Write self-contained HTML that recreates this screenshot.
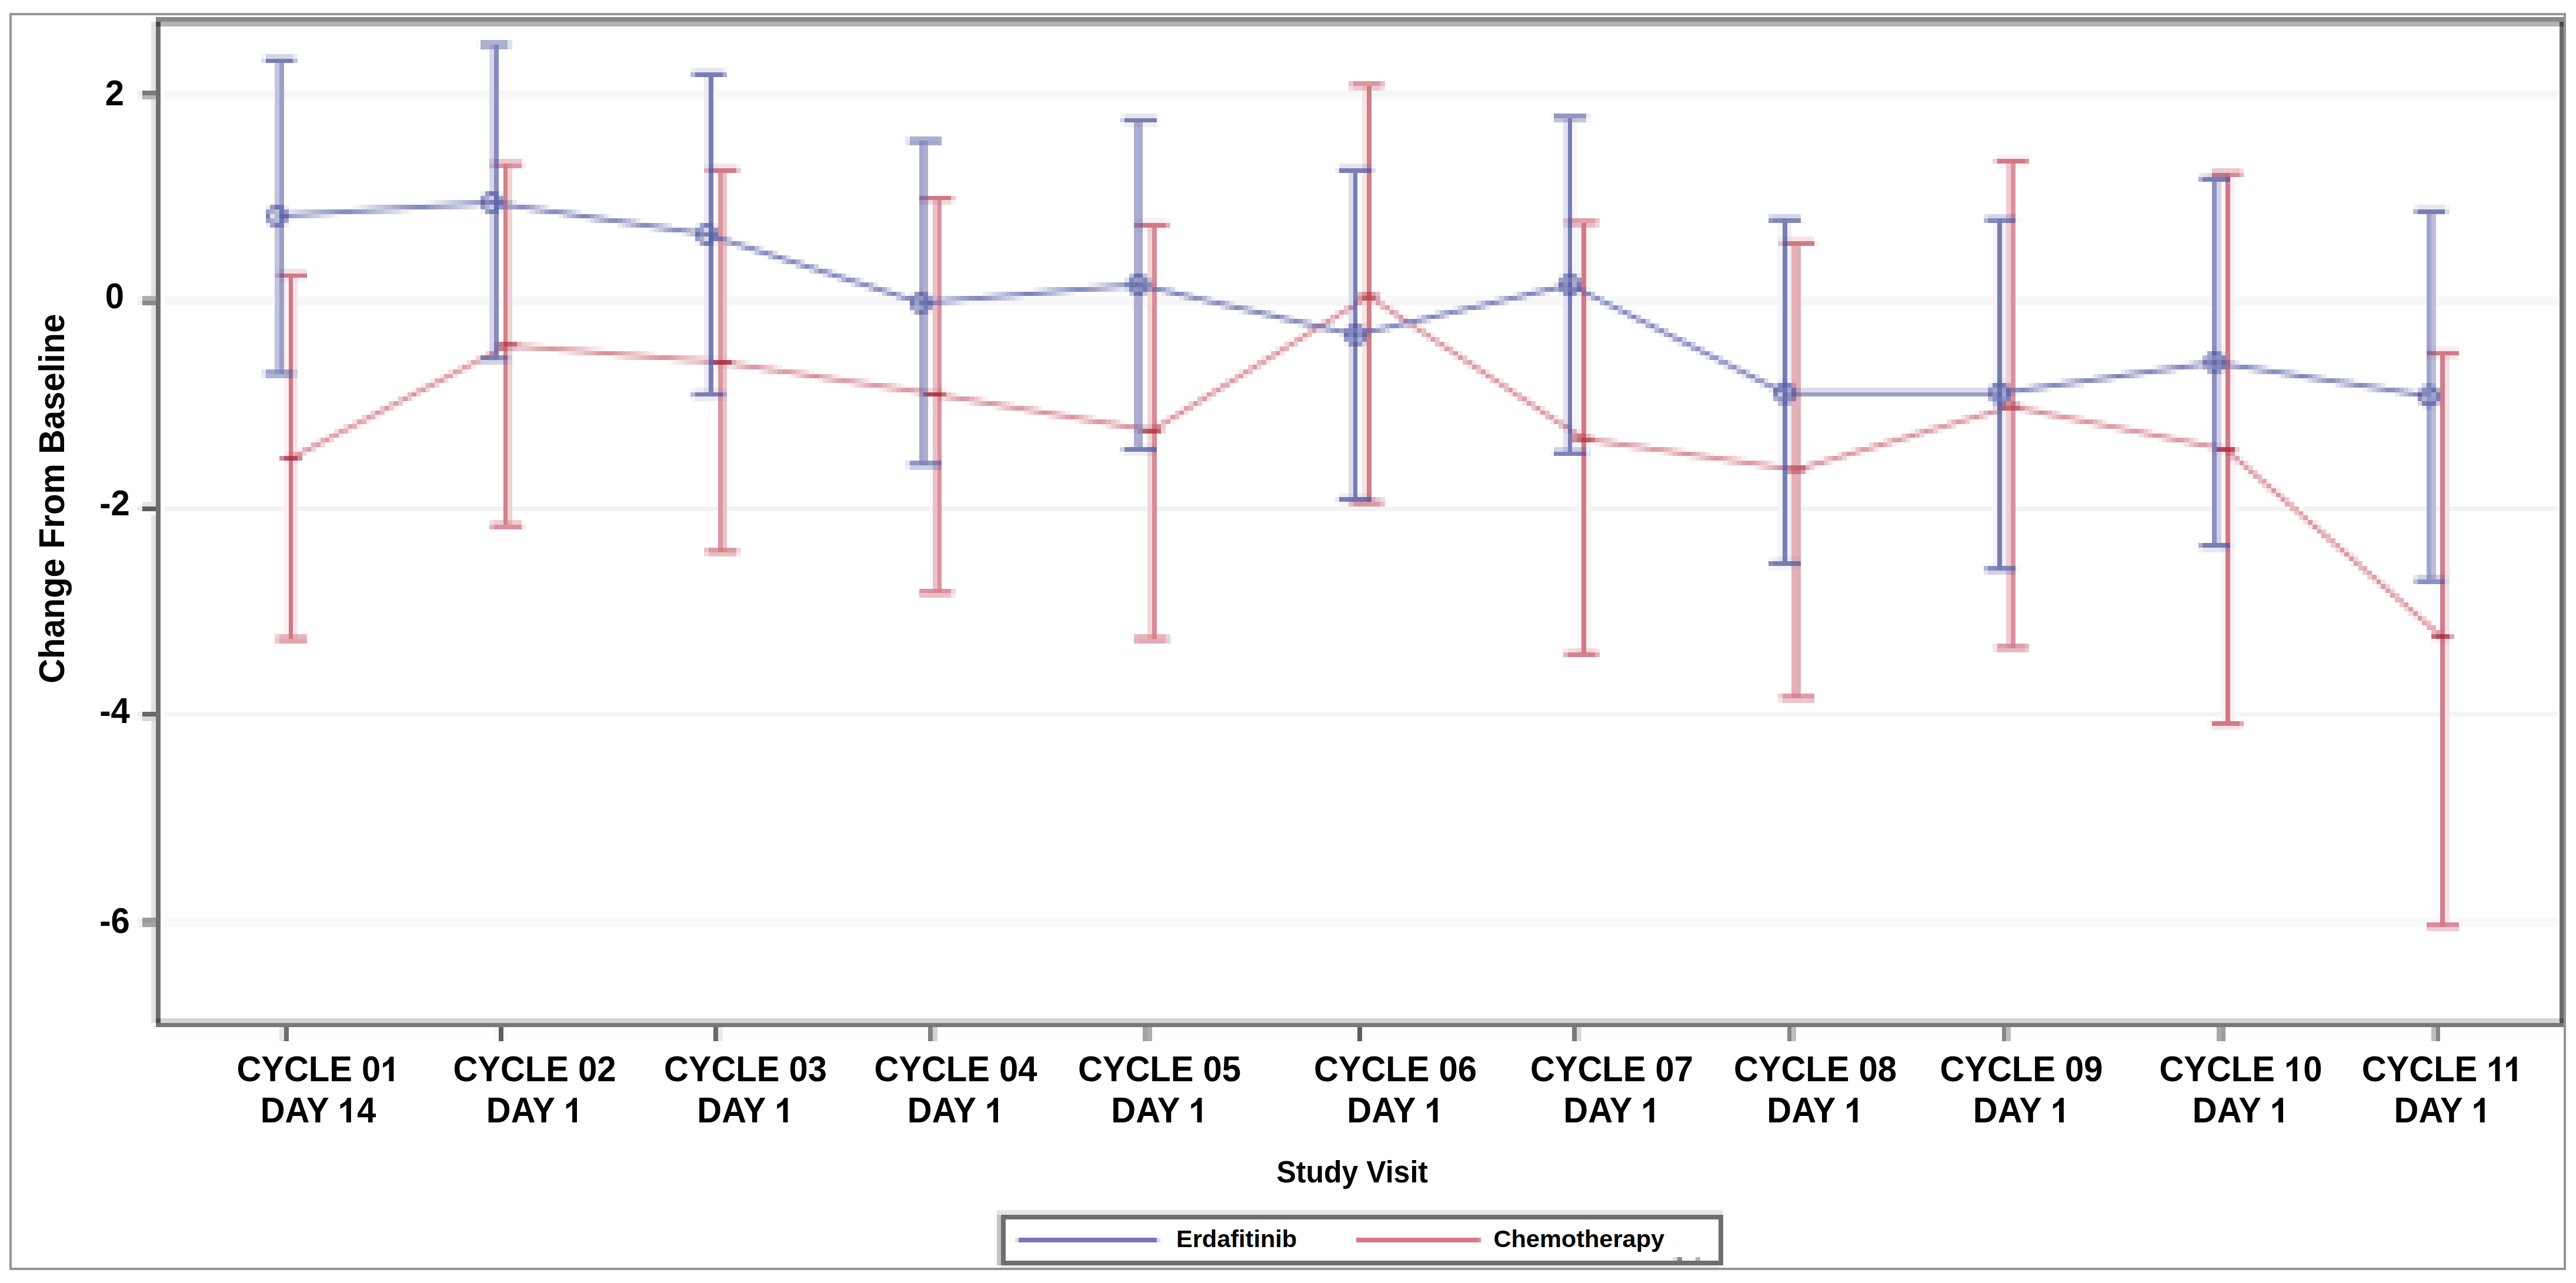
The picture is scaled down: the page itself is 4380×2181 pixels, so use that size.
<!DOCTYPE html><html><head><meta charset="utf-8"><style>html,body{margin:0;padding:0;background:#fff;width:4380px;height:2181px;overflow:hidden}svg{position:absolute;left:0;top:0}text{font-family:"Liberation Sans",sans-serif;font-weight:bold;fill:#000}</style></head><body>
<svg width="4380" height="2181" viewBox="0 0 4380 2181">
<rect x="0" y="0" width="4380" height="2181" fill="#fff"/>
<rect x="18" y="24" width="4343" height="2133" fill="none" stroke="#939599" stroke-width="4"/>
<rect x="273" y="37" width="4079" height="8" fill="#b3b3b3"/>
<rect x="257" y="37" width="8" height="1702" fill="#e2e3e3"/>
<rect x="273" y="1731" width="4079" height="8" fill="#d4d6d6"/>
<path fill="#f0f0f0" d="M234 154h8v8h-8zM234 511h8v8h-8z"/><path fill="#7b7b7b" d="M242 154h23v8h-23z"/><path fill="#f6f6f9" d="M281 154h4070v8h-4070zM281 511h4070v8h-4070z"/><path fill="#f6f6f6" d="M234 162h8v7h-8zM234 503h8v8h-8z"/><path fill="#b7b7b7" d="M242 162h23v7h-23z"/><path fill="#f9f9fc" d="M281 162h4070v7h-4070zM281 503h4070v8h-4070z"/><path fill="#b1b1b1" d="M242 503h23v8h-23z"/><path fill="#8a8a8a" d="M242 511h23v8h-23z"/><path fill="#e4e4e4" d="M242 853h23v8h-23z"/><path fill="#eaeaea" d="M234 861h8v8h-8zM1221 1746h8v8h-8zM1221 1754h8v8h-8zM1221 1762h8v8h-8z"/><path fill="#5d5d5d" d="M242 861h23v8h-23zM848 1746h8v8h-8zM2308 1746h8v8h-8zM848 1754h8v8h-8zM2308 1754h8v8h-8zM848 1762h8v8h-8zM2308 1762h8v8h-8z"/><path fill="#f3f3f6" d="M281 861h4070v8h-4070z"/><path fill="#f9f9f9" d="M242 869h23v7h-23zM234 1218h8v8h-8zM281 1568h4070v8h-4070zM840 1746h8v8h-8zM856 1746h7v8h-7zM2301 1746h7v8h-7zM2316 1746h8v8h-8zM840 1754h8v8h-8zM856 1754h7v8h-7zM2301 1754h7v8h-7zM2316 1754h8v8h-8zM840 1762h8v8h-8zM856 1762h7v8h-7zM2301 1762h7v8h-7zM2316 1762h8v8h-8z"/><path fill="#ededed" d="M234 1210h8v8h-8z"/><path fill="#666666" d="M242 1210h23v8h-23z"/><path fill="#f3f6f6" d="M281 1210h4070v8h-4070z"/><path fill="#d8d8d8" d="M242 1218h23v8h-23z"/><path fill="#f3f3f3" d="M234 1560h8v8h-8zM234 1568h8v8h-8z"/><path fill="#999999" d="M242 1560h23v8h-23z"/><path fill="#f6f9f9" d="M281 1560h4070v8h-4070z"/><path fill="#a5a5a5" d="M242 1568h23v8h-23z"/><path fill="#e7e7e7" d="M475 1746h8v8h-8zM475 1754h8v8h-8zM475 1762h8v8h-8z"/><path fill="#6c6c6c" d="M483 1746h8v8h-8zM483 1754h8v8h-8zM483 1762h8v8h-8z"/><path fill="#696969" d="M1213 1746h8v8h-8zM1213 1754h8v8h-8zM1213 1762h8v8h-8z"/><path fill="#818181" d="M1578 1746h8v8h-8zM1578 1754h8v8h-8zM1578 1762h8v8h-8z"/><path fill="#d2d2d2" d="M1586 1746h8v8h-8zM1586 1754h8v8h-8zM1586 1762h8v8h-8z"/><path fill="#a2a2a2" d="M1943 1746h8v8h-8zM1943 1754h8v8h-8zM1943 1762h8v8h-8z"/><path fill="#aeaeae" d="M1951 1746h8v8h-8zM1951 1754h8v8h-8zM1951 1762h8v8h-8z"/><path fill="#787878" d="M2673 1746h8v8h-8zM2673 1754h8v8h-8zM2673 1762h8v8h-8z"/><path fill="#dbdbdb" d="M2681 1746h8v8h-8zM2681 1754h8v8h-8zM2681 1762h8v8h-8z"/><path fill="#878787" d="M3039 1746h7v8h-7zM3404 1746h7v8h-7zM4142 1746h7v8h-7zM3039 1754h7v8h-7zM3404 1754h7v8h-7zM4142 1754h7v8h-7zM3039 1762h7v8h-7zM3404 1762h7v8h-7zM4142 1762h7v8h-7z"/><path fill="#bdbdbd" d="M3046 1746h8v8h-8zM3411 1746h8v8h-8zM4134 1746h8v8h-8zM3046 1754h8v8h-8zM3411 1754h8v8h-8zM4134 1754h8v8h-8zM3046 1762h8v8h-8zM3411 1762h8v8h-8zM4134 1762h8v8h-8z"/><path fill="#a8a8a8" d="M3769 1746h8v8h-8zM3769 1754h8v8h-8zM3769 1762h8v8h-8z"/><path fill="#9c9c9c" d="M3777 1746h7v8h-7zM3777 1754h7v8h-7zM3777 1762h7v8h-7z"/>
<rect x="265" y="29" width="4094" height="8" fill="#878989"/>
<rect x="265" y="37" width="8" height="1709" fill="#6e6e6e"/>
<rect x="265" y="37" width="8" height="8" fill="#474747"/>
<rect x="4352" y="37" width="7" height="1709" fill="#6a6c6c"/>
<rect x="4352" y="37" width="7" height="8" fill="#4a4a4a"/>
<rect x="265" y="1739" width="4094" height="7" fill="#777878"/>
<rect x="265" y="1731" width="8" height="8" fill="#505050"/>
<rect x="4352" y="1731" width="7" height="8" fill="#505050"/>
<g transform="translate(195,179.0) scale(1,1.04)"><text x="0" y="0" font-size="58" text-anchor="middle">2</text></g>
<g transform="translate(195,523.5) scale(1,1.04)"><text x="0" y="0" font-size="58" text-anchor="middle">0</text></g>
<g transform="translate(195,876.0) scale(1,1.04)"><text x="0" y="0" font-size="58" text-anchor="middle">-2</text></g>
<g transform="translate(195,1229.0) scale(1,1.04)"><text x="0" y="0" font-size="58" text-anchor="middle">-4</text></g>
<g transform="translate(195,1586.0) scale(1,1.04)"><text x="0" y="0" font-size="58" text-anchor="middle">-6</text></g>
<g transform="translate(541.0,1838) scale(1,1.04)"><text x="0" y="0" font-size="58" text-anchor="middle">CYCLE 01</text></g>
<g transform="translate(541.0,1908) scale(1,1.04)"><text x="0" y="0" font-size="58" text-anchor="middle">DAY 14</text></g>
<g transform="translate(909.0,1838) scale(1,1.04)"><text x="0" y="0" font-size="58" text-anchor="middle">CYCLE 02</text></g>
<g transform="translate(909.0,1908) scale(1,1.04)"><text x="0" y="0" font-size="58" text-anchor="middle">DAY 1</text></g>
<g transform="translate(1267.5,1838) scale(1,1.04)"><text x="0" y="0" font-size="58" text-anchor="middle">CYCLE 03</text></g>
<g transform="translate(1267.5,1908) scale(1,1.04)"><text x="0" y="0" font-size="58" text-anchor="middle">DAY 1</text></g>
<g transform="translate(1625.0,1838) scale(1,1.04)"><text x="0" y="0" font-size="58" text-anchor="middle">CYCLE 04</text></g>
<g transform="translate(1625.0,1908) scale(1,1.04)"><text x="0" y="0" font-size="58" text-anchor="middle">DAY 1</text></g>
<g transform="translate(1971.5,1838) scale(1,1.04)"><text x="0" y="0" font-size="58" text-anchor="middle">CYCLE 05</text></g>
<g transform="translate(1971.5,1908) scale(1,1.04)"><text x="0" y="0" font-size="58" text-anchor="middle">DAY 1</text></g>
<g transform="translate(2372.5,1838) scale(1,1.04)"><text x="0" y="0" font-size="58" text-anchor="middle">CYCLE 06</text></g>
<g transform="translate(2372.5,1908) scale(1,1.04)"><text x="0" y="0" font-size="58" text-anchor="middle">DAY 1</text></g>
<g transform="translate(2740.5,1838) scale(1,1.04)"><text x="0" y="0" font-size="58" text-anchor="middle">CYCLE 07</text></g>
<g transform="translate(2740.5,1908) scale(1,1.04)"><text x="0" y="0" font-size="58" text-anchor="middle">DAY 1</text></g>
<g transform="translate(3086.5,1838) scale(1,1.04)"><text x="0" y="0" font-size="58" text-anchor="middle">CYCLE 08</text></g>
<g transform="translate(3086.5,1908) scale(1,1.04)"><text x="0" y="0" font-size="58" text-anchor="middle">DAY 1</text></g>
<g transform="translate(3437.0,1838) scale(1,1.04)"><text x="0" y="0" font-size="58" text-anchor="middle">CYCLE 09</text></g>
<g transform="translate(3437.0,1908) scale(1,1.04)"><text x="0" y="0" font-size="58" text-anchor="middle">DAY 1</text></g>
<g transform="translate(3810.0,1838) scale(1,1.04)"><text x="0" y="0" font-size="58" text-anchor="middle">CYCLE 10</text></g>
<g transform="translate(3810.0,1908) scale(1,1.04)"><text x="0" y="0" font-size="58" text-anchor="middle">DAY 1</text></g>
<g transform="translate(4152.7,1838) scale(1,1.04)"><text x="0" y="0" font-size="58" text-anchor="middle">CYCLE 11</text></g>
<g transform="translate(4152.7,1908) scale(1,1.04)"><text x="0" y="0" font-size="58" text-anchor="middle">DAY 1</text></g>
<rect x="649.34" y="1793.5" width="30" height="46" fill="#fff"/>
<path transform="translate(647.34,1838)" d="M14.1 0H22V-41.8H15.6Q13.5 -36 9.4 -33.6Q6.8 -31.9 3.8 -30.6V-23.1Q9.8 -25.5 14.1 -30.2Z" fill="#000"/>
<rect x="576.83" y="1863.5" width="30" height="46" fill="#fff"/>
<path transform="translate(574.83,1908)" d="M14.1 0H22V-41.8H15.6Q13.5 -36 9.4 -33.6Q6.8 -31.9 3.8 -30.6V-23.1Q9.8 -25.5 14.1 -30.2Z" fill="#000"/>
<rect x="960.95" y="1863.5" width="30" height="46" fill="#fff"/>
<path transform="translate(958.95,1908)" d="M14.1 0H22V-41.8H15.6Q13.5 -36 9.4 -33.6Q6.8 -31.9 3.8 -30.6V-23.1Q9.8 -25.5 14.1 -30.2Z" fill="#000"/>
<rect x="1319.45" y="1863.5" width="30" height="46" fill="#fff"/>
<path transform="translate(1317.45,1908)" d="M14.1 0H22V-41.8H15.6Q13.5 -36 9.4 -33.6Q6.8 -31.9 3.8 -30.6V-23.1Q9.8 -25.5 14.1 -30.2Z" fill="#000"/>
<rect x="1676.95" y="1863.5" width="30" height="46" fill="#fff"/>
<path transform="translate(1674.95,1908)" d="M14.1 0H22V-41.8H15.6Q13.5 -36 9.4 -33.6Q6.8 -31.9 3.8 -30.6V-23.1Q9.8 -25.5 14.1 -30.2Z" fill="#000"/>
<rect x="2023.45" y="1863.5" width="30" height="46" fill="#fff"/>
<path transform="translate(2021.45,1908)" d="M14.1 0H22V-41.8H15.6Q13.5 -36 9.4 -33.6Q6.8 -31.9 3.8 -30.6V-23.1Q9.8 -25.5 14.1 -30.2Z" fill="#000"/>
<rect x="2424.45" y="1863.5" width="30" height="46" fill="#fff"/>
<path transform="translate(2422.45,1908)" d="M14.1 0H22V-41.8H15.6Q13.5 -36 9.4 -33.6Q6.8 -31.9 3.8 -30.6V-23.1Q9.8 -25.5 14.1 -30.2Z" fill="#000"/>
<rect x="2792.45" y="1863.5" width="30" height="46" fill="#fff"/>
<path transform="translate(2790.45,1908)" d="M14.1 0H22V-41.8H15.6Q13.5 -36 9.4 -33.6Q6.8 -31.9 3.8 -30.6V-23.1Q9.8 -25.5 14.1 -30.2Z" fill="#000"/>
<rect x="3138.45" y="1863.5" width="30" height="46" fill="#fff"/>
<path transform="translate(3136.45,1908)" d="M14.1 0H22V-41.8H15.6Q13.5 -36 9.4 -33.6Q6.8 -31.9 3.8 -30.6V-23.1Q9.8 -25.5 14.1 -30.2Z" fill="#000"/>
<rect x="3488.95" y="1863.5" width="30" height="46" fill="#fff"/>
<path transform="translate(3486.95,1908)" d="M14.1 0H22V-41.8H15.6Q13.5 -36 9.4 -33.6Q6.8 -31.9 3.8 -30.6V-23.1Q9.8 -25.5 14.1 -30.2Z" fill="#000"/>
<rect x="3886.07" y="1793.5" width="30" height="46" fill="#fff"/>
<path transform="translate(3884.07,1838)" d="M14.1 0H22V-41.8H15.6Q13.5 -36 9.4 -33.6Q6.8 -31.9 3.8 -30.6V-23.1Q9.8 -25.5 14.1 -30.2Z" fill="#000"/>
<rect x="3861.95" y="1863.5" width="30" height="46" fill="#fff"/>
<path transform="translate(3859.95,1908)" d="M14.1 0H22V-41.8H15.6Q13.5 -36 9.4 -33.6Q6.8 -31.9 3.8 -30.6V-23.1Q9.8 -25.5 14.1 -30.2Z" fill="#000"/>
<rect x="4230.37" y="1793.5" width="30" height="46" fill="#fff"/>
<path transform="translate(4228.37,1838)" d="M14.1 0H22V-41.8H15.6Q13.5 -36 9.4 -33.6Q6.8 -31.9 3.8 -30.6V-23.1Q9.8 -25.5 14.1 -30.2Z" fill="#000"/>
<rect x="4259.43" y="1793.5" width="30" height="46" fill="#fff"/>
<path transform="translate(4257.43,1838)" d="M14.1 0H22V-41.8H15.6Q13.5 -36 9.4 -33.6Q6.8 -31.9 3.8 -30.6V-23.1Q9.8 -25.5 14.1 -30.2Z" fill="#000"/>
<rect x="4204.65" y="1863.5" width="30" height="46" fill="#fff"/>
<path transform="translate(4202.65,1908)" d="M14.1 0H22V-41.8H15.6Q13.5 -36 9.4 -33.6Q6.8 -31.9 3.8 -30.6V-23.1Q9.8 -25.5 14.1 -30.2Z" fill="#000"/>
<g transform="translate(2170.5,2010) scale(1,1.04)"><text x="0" y="0" font-size="50">Study Visit</text></g>
<g transform="translate(109.3,1161.8) rotate(-90) scale(1,1.04)"><text x="0" y="0" font-size="58">Change From Baseline</text></g>
<path fill="#f5f5fa" d="M444 92h8v8h-8zM568 364h8v7h-8zM599 348h8v8h-8zM693 356h7v8h-7zM1034 364h8v7h-8zM1174 659h8v8h-8zM1174 674h8v8h-8zM1244 402h8v8h-8zM1298 434h8v7h-8zM1392 449h7v8h-7zM1493 496h7v7h-7zM1904 193h8v8h-8zM1912 752h8v8h-8zM1920 752h8v8h-8zM1943 752h8v8h-8zM1998 488h7v8h-7zM2036 511h8v8h-8zM2277 853h8v8h-8zM2285 853h8v8h-8zM2363 558h7v8h-7zM2370 542h8v8h-8zM2495 527h8v8h-8zM2503 511h7v8h-7zM2635 480h7v8h-7zM2673 208h8v163h-8zM2673 387h8v78h-8zM2673 503h8v226h-8zM2673 752h8v8h-8zM2697 201h8v7h-8zM2743 527h8v8h-8zM2759 535h8v7h-8zM2774 527h8v8h-8zM3007 946h8v8h-8zM3007 962h8v8h-8zM3015 962h8v8h-8zM3023 379h8v23h-8zM3023 418h8v225h-8zM3023 690h8v93h-8zM3023 799h8v147h-8zM3023 962h8v8h-8zM3031 962h8v8h-8zM3039 962h7v8h-7zM3388 379h8v264h-8zM3388 705h8v257h-8zM3427 371h8v8h-8zM3427 962h8v8h-8zM3497 643h8v8h-8zM3645 636h7v7h-7zM3699 628h8v8h-8zM3714 612h8v8h-8zM3870 636h8v7h-8zM4002 643h8v8h-8zM4017 659h8v8h-8zM4157 348h8v8h-8z"/><path fill="#dcdceb" d="M444 100h8v7h-8zM545 364h8v7h-8zM623 348h7v8h-7zM669 356h8v8h-8zM902 356h8v8h-8zM1003 371h8v8h-8zM1197 659h8v8h-8zM1314 426h8v8h-8zM1337 434h8v7h-8zM1376 457h8v8h-8zM1423 472h8v8h-8zM1772 488h8v8h-8zM2176 542h8v8h-8zM2223 542h8v8h-8zM2293 294h8v217h-8zM2293 535h8v15h-8zM2293 589h8v249h-8zM2332 286h7v8h-7zM2425 542h8v8h-8zM2456 535h8v7h-8zM2557 511h8v8h-8zM2642 480h8v8h-8zM2658 713h8v8h-8zM2984 636h8v7h-8zM3000 643h7v8h-7zM3062 659h8v8h-8zM3070 659h7v8h-7zM3077 659h8v8h-8zM3085 659h8v8h-8zM3093 659h8v8h-8zM3101 659h7v8h-7zM3108 659h8v8h-8zM3116 659h8v8h-8zM3124 659h8v8h-8zM3132 659h8v8h-8zM3140 659h7v8h-7zM3147 659h8v8h-8zM3155 659h8v8h-8zM3163 659h8v8h-8zM3171 659h7v8h-7zM3178 659h8v8h-8zM3186 659h8v8h-8zM3194 659h8v8h-8zM3202 659h7v8h-7zM3209 659h8v8h-8zM3217 659h8v8h-8zM3225 659h8v8h-8zM3233 659h8v8h-8zM3241 659h7v8h-7zM3248 659h8v8h-8zM3256 659h8v8h-8zM3264 659h8v8h-8zM3272 659h7v8h-7zM3279 659h8v8h-8zM3287 659h8v8h-8zM3295 659h8v8h-8zM3303 659h7v8h-7zM3310 659h8v8h-8zM3318 659h8v8h-8zM3326 659h8v8h-8zM3334 659h8v8h-8zM3342 659h7v8h-7zM3349 659h8v8h-8zM3357 659h8v8h-8zM3365 659h8v8h-8zM3373 659h7v8h-7zM3474 659h7v8h-7zM3668 620h8v8h-8zM3878 636h7v7h-7zM3924 643h8v8h-8zM4095 659h8v8h-8z"/><path fill="#e6e6f0" d="M444 628h8v8h-8zM615 348h8v8h-8zM677 356h8v8h-8zM739 340h8v8h-8zM871 340h8v8h-8zM926 348h7v8h-7zM1081 371h8v8h-8zM1135 379h8v8h-8zM1182 115h8v8h-8zM1190 115h7v8h-7zM1197 115h8v8h-8zM1205 115h8v8h-8zM1213 115h8v8h-8zM1213 659h8v8h-8zM1221 115h8v8h-8zM1252 418h8v8h-8zM1446 480h8v8h-8zM1485 480h8v8h-8zM1539 239h8v8h-8zM1632 511h8v8h-8zM1679 496h8v7h-8zM1765 488h7v8h-7zM1811 496h8v7h-8zM1858 480h8v8h-8zM1904 488h8v8h-8zM1912 193h8v8h-8zM1920 193h8v8h-8zM1928 193h7v8h-7zM1935 193h8v8h-8zM1943 193h8v8h-8zM1951 193h8v8h-8zM1959 193h8v8h-8zM1974 496h8v7h-8zM2005 503h8v8h-8zM2161 527h8v8h-8zM2192 535h8v7h-8zM2270 845h7v8h-7zM2277 278h8v8h-8zM2285 278h8v8h-8zM2293 278h8v8h-8zM2301 278h7v8h-7zM2308 278h8v8h-8zM2541 503h8v8h-8zM2914 612h8v8h-8zM2930 620h8v8h-8zM2961 636h8v7h-8zM3007 659h8v8h-8zM3023 946h8v8h-8zM3039 946h7v8h-7zM3373 364h7v7h-7zM3404 643h7v8h-7zM3745 931h8v8h-8zM3753 931h8v8h-8zM3761 931h8v8h-8zM3769 931h8v8h-8zM3800 612h8v8h-8zM3901 628h8v8h-8zM3947 636h8v7h-8zM3971 651h8v8h-8zM4048 651h8v8h-8zM4103 977h8v8h-8zM4111 348h7v8h-7zM4118 348h8v8h-8zM4126 348h8v8h-8zM4134 348h8v8h-8zM4142 348h7v8h-7zM4149 348h8v8h-8z"/><path fill="#ebebf5" d="M444 636h8v7h-8zM498 92h8v8h-8zM560 364h8v7h-8zM809 348h8v8h-8zM817 325h8v8h-8zM949 364h8v7h-8zM1050 379h8v8h-8zM1159 395h7v7h-7zM1182 659h8v8h-8zM1182 674h8v8h-8zM1190 659h7v8h-7zM1190 674h7v8h-7zM1197 131h8v147h-8zM1197 294h8v85h-8zM1197 418h8v186h-8zM1197 620h8v39h-8zM1197 674h8v8h-8zM1205 674h8v8h-8zM1213 379h8v8h-8zM1213 410h8v8h-8zM1213 674h8v8h-8zM1267 410h8v8h-8zM1462 472h7v8h-7zM1733 503h8v8h-8zM2262 550h8v8h-8zM2308 838h8v7h-8zM2339 550h8v8h-8zM2471 519h8v8h-8zM2604 488h7v8h-7zM2697 193h8v8h-8zM2837 573h7v8h-7zM2852 581h8v8h-8zM2883 597h8v7h-8zM2945 628h8v8h-8zM3023 643h8v8h-8zM3536 651h8v8h-8zM3590 643h8v8h-8zM3606 628h7v8h-7zM3738 294h7v7h-7zM3823 628h8v8h-8z"/><path fill="#d2d7e6" d="M452 92h7v8h-7zM459 92h8v8h-8zM467 92h8v8h-8zM475 92h8v8h-8zM483 92h8v8h-8zM491 92h7v8h-7zM630 348h8v8h-8zM661 356h8v8h-8zM918 348h8v8h-8zM957 364h7v7h-7zM972 356h8v8h-8zM1128 379h7v8h-7zM1166 395h8v7h-8zM1912 488h8v8h-8zM2122 519h8v8h-8zM2953 620h8v8h-8zM3015 364h8v7h-8zM3023 364h8v7h-8zM3031 364h8v7h-8zM3039 364h7v7h-7zM3046 364h8v7h-8zM3054 364h8v7h-8zM3380 364h8v7h-8zM3388 364h8v7h-8zM3396 364h8v7h-8zM3404 364h7v7h-7zM4118 651h8v8h-8z"/><path fill="#787db4" d="M452 100h7v7h-7zM452 364h7v7h-7zM459 100h8v7h-8zM467 100h8v7h-8zM475 100h8v7h-8zM475 379h8v8h-8zM483 100h8v7h-8zM491 100h7v7h-7zM832 356h8v8h-8zM1182 123h8v8h-8zM1182 667h8v7h-8zM1190 123h7v8h-7zM1190 667h7v7h-7zM1197 123h8v8h-8zM1197 379h8v8h-8zM1197 395h8v7h-8zM1197 667h8v7h-8zM1205 123h8v155h-8zM1205 294h8v85h-8zM1205 418h8v186h-8zM1205 620h8v54h-8zM1213 123h8v8h-8zM1213 402h8v8h-8zM1213 667h8v7h-8zM1221 123h8v8h-8zM1570 519h8v8h-8zM1912 201h8v7h-8zM1912 760h8v8h-8zM1920 201h8v7h-8zM1920 760h8v8h-8zM1928 201h7v7h-7zM1928 760h7v8h-7zM1935 201h8v7h-8zM1935 760h8v8h-8zM1943 201h8v7h-8zM1943 760h8v8h-8zM1951 201h8v7h-8zM1959 201h8v7h-8zM2277 286h8v8h-8zM2277 845h8v8h-8zM2285 286h8v8h-8zM2285 845h8v8h-8zM2293 286h8v8h-8zM2301 286h7v225h-7zM2301 527h7v23h-7zM2301 589h7v256h-7zM2308 286h8v8h-8zM2666 201h7v170h-7zM2666 387h7v70h-7zM2666 503h7v218h-7zM2666 737h7v31h-7zM3015 954h8v8h-8zM3023 954h8v8h-8zM3031 371h8v31h-8zM3031 418h8v225h-8zM3031 690h8v101h-8zM3031 806h8v156h-8zM3039 954h7v8h-7zM3396 371h8v272h-8zM3396 705h8v265h-8zM3404 651h7v8h-7zM3745 923h8v8h-8zM3753 923h8v8h-8zM3761 301h8v8h-8zM3761 923h8v8h-8zM3769 923h8v8h-8zM3777 301h7v8h-7zM4126 356h8v8h-8zM4134 356h8v8h-8zM4142 667h7v7h-7z"/><path fill="#f0f0f5" d="M452 348h7v8h-7zM483 348h8v8h-8zM483 379h8v8h-8zM685 356h8v8h-8zM731 340h8v8h-8zM817 356h8v8h-8zM848 356h8v8h-8zM894 356h8v8h-8zM995 371h8v8h-8zM1174 115h8v8h-8zM1182 410h8v8h-8zM1229 115h7v8h-7zM1275 426h8v8h-8zM1322 441h8v8h-8zM1415 457h8v8h-8zM1469 488h8v8h-8zM1516 503h8v8h-8zM1547 496h8v7h-8zM1578 496h8v7h-8zM1640 511h8v8h-8zM1671 496h8v7h-8zM1757 488h8v8h-8zM1819 496h8v7h-8zM1850 480h8v8h-8zM1912 208h8v8h-8zM1920 208h8v8h-8zM1943 208h8v8h-8zM1951 208h8v8h-8zM1959 208h8v8h-8zM2060 503h8v8h-8zM2106 527h8v8h-8zM2130 519h7v8h-7zM2277 838h8v7h-8zM2285 550h8v8h-8zM2285 581h8v8h-8zM2285 838h8v7h-8zM2572 496h8v7h-8zM2596 503h8v8h-8zM2650 465h8v7h-8zM2650 496h8v7h-8zM2774 542h8v8h-8zM2790 550h8v8h-8zM2821 566h8v7h-8zM3481 659h8v8h-8zM3660 620h8v8h-8zM3738 931h7v8h-7zM3854 620h8v8h-8zM4103 348h8v8h-8z"/><path fill="#969bc8" d="M452 356h7v8h-7zM452 371h7v8h-7zM491 364h7v7h-7zM560 356h8v8h-8zM685 348h8v8h-8zM731 348h8v8h-8zM817 333h8v7h-8zM825 325h7v8h-7zM894 348h8v8h-8zM1050 371h8v8h-8zM1104 379h8v8h-8zM1314 434h8v7h-8zM1399 457h8v8h-8zM1423 465h8v7h-8zM1446 472h8v8h-8zM1508 496h8v7h-8zM1563 519h7v8h-7zM1578 503h8v8h-8zM1640 503h8v8h-8zM1726 496h7v7h-7zM1850 488h8v8h-8zM2060 511h8v8h-8zM2262 558h8v8h-8zM2285 573h8v8h-8zM2293 573h8v8h-8zM2308 550h8v16h-8zM2308 581h8v8h-8zM2339 558h8v8h-8zM2425 535h8v7h-8zM2471 527h8v8h-8zM2914 604h8v8h-8zM2930 612h8v8h-8zM3007 651h8v8h-8zM3536 643h8v8h-8zM3854 628h8v8h-8zM4134 674h8v8h-8z"/><path fill="#f0f0fa" d="M452 379h7v8h-7zM1438 465h8v7h-8zM1539 791h8v8h-8zM1547 527h8v8h-8zM1578 527h8v8h-8zM2627 496h8v7h-8zM2728 519h8v8h-8zM2806 558h7v8h-7zM3015 946h8v8h-8zM3039 379h7v23h-7zM3039 418h7v225h-7zM3039 690h7v101h-7zM3039 806h7v140h-7zM3388 643h8v8h-8zM3427 667h8v7h-8zM3916 643h8v8h-8zM4103 659h8v8h-8zM4118 690h8v8h-8z"/><path fill="#a0a5cd" d="M452 628h7v8h-7zM459 379h8v8h-8zM459 628h8v8h-8zM498 364h8v7h-8zM553 356h7v8h-7zM615 356h8v8h-8zM677 348h8v8h-8zM739 348h8v8h-8zM871 348h8v8h-8zM1003 364h8v7h-8zM1555 527h8v8h-8zM1563 488h7v8h-7zM1632 503h8v8h-8zM1772 496h8v7h-8zM1858 488h8v8h-8zM1904 480h8v8h-8zM1935 208h8v8h-8zM2075 511h8v8h-8zM2456 527h8v8h-8zM2891 597h8v7h-8zM2922 612h8v8h-8zM3039 659h7v8h-7zM3388 659h8v8h-8zM3404 667h7v7h-7zM3505 651h7v8h-7zM3582 636h8v7h-8zM3691 620h8v8h-8zM3753 597h8v7h-8zM3800 620h8v8h-8zM3971 643h8v8h-8zM4048 659h8v8h-8zM4126 364h8v225h-8zM4126 612h8v39h-8zM4126 698h8v279h-8z"/><path fill="#afb4d7" d="M452 636h7v7h-7zM459 636h8v7h-8zM467 364h8v7h-8zM467 636h8v7h-8zM475 636h8v7h-8zM1019 371h8v8h-8zM1431 472h7v8h-7zM1524 496h8v7h-8zM1710 496h8v7h-8zM1780 496h8v7h-8zM2658 201h8v7h-8zM3567 643h8v8h-8zM3629 628h8v8h-8zM3831 620h8v8h-8zM4103 356h8v8h-8z"/><path fill="#9b9bc8" d="M459 348h8v8h-8zM607 356h8v8h-8zM949 356h8v8h-8zM1182 402h8v8h-8zM1485 488h8v8h-8zM2526 511h8v8h-8zM3404 659h7v8h-7z"/><path fill="#afafd2" d="M459 356h8v8h-8zM794 340h7v8h-7zM817 68h8v16h-8zM825 68h7v16h-7zM832 68h8v8h-8zM840 68h8v8h-8zM848 68h8v16h-8zM856 68h7v16h-7zM1166 387h8v8h-8zM1306 426h8v8h-8zM1353 441h8v8h-8zM1500 488h8v8h-8zM1547 232h8v7h-8zM1555 232h8v7h-8zM1563 232h7v7h-7zM1570 232h8v7h-8zM1570 247h8v86h-8zM1570 348h8v148h-8zM1570 535h8v124h-8zM1570 674h8v109h-8zM1578 232h8v7h-8zM1586 232h8v7h-8zM1866 488h7v8h-7zM2308 573h8v8h-8zM2619 488h8v8h-8zM2782 542h8v8h-8zM2798 550h8v8h-8zM2875 589h8v8h-8zM3738 301h7v8h-7zM3753 628h8v8h-8zM3846 628h8v8h-8zM3893 636h8v7h-8z"/><path fill="#e1e1f0" d="M459 364h8v7h-8zM491 356h7v8h-7zM801 348h8v8h-8zM1027 364h7v7h-7zM1291 418h7v8h-7zM1399 465h8v7h-8zM1532 496h7v7h-7zM1539 783h8v8h-8zM1726 503h7v8h-7zM2075 519h8v8h-8zM2091 511h8v8h-8zM2277 566h8v7h-8zM2409 535h8v7h-8zM2440 527h8v8h-8zM2658 208h8v163h-8zM2658 387h8v78h-8zM2658 503h8v210h-8zM2658 737h8v23h-8zM2899 604h8v8h-8zM2976 643h8v8h-8zM2992 651h8v8h-8zM3450 651h8v8h-8zM3559 636h8v7h-8zM3637 636h8v7h-8zM3691 628h8v8h-8zM3722 612h8v8h-8zM3745 294h8v7h-8z"/><path fill="#aaaad2" d="M459 371h8v8h-8zM545 356h8v8h-8zM747 348h8v8h-8zM1594 239h7v8h-7zM1935 216h8v155h-8zM1935 395h8v62h-8zM1935 503h8v218h-8zM1935 737h8v15h-8zM2223 550h8v8h-8zM2378 550h8v8h-8zM2510 519h8v8h-8zM2611 496h8v7h-8zM2673 480h8v8h-8zM2829 566h8v7h-8zM2844 573h8v8h-8zM3528 643h8v8h-8zM3668 628h8v8h-8zM3994 651h8v8h-8zM4025 651h8v8h-8z"/><path fill="#c3c3e1" d="M467 107h8v241h-8zM467 387h8v70h-8zM467 480h8v148h-8zM646 356h8v8h-8zM1881 488h8v8h-8zM2782 535h8v7h-8z"/><path fill="#6973af" d="M467 348h8v8h-8zM475 356h8v8h-8zM1563 527h7v8h-7zM3396 674h8v8h-8z"/><path fill="#b9bed7" d="M467 356h8v8h-8zM529 356h8v8h-8zM1283 418h8v8h-8zM2518 511h8v8h-8zM2751 527h8v8h-8zM3738 612h7v8h-7zM3885 628h8v8h-8z"/><path fill="#b4b9d7" d="M467 371h8v8h-8zM786 340h8v8h-8zM1011 364h8v7h-8zM1174 123h8v8h-8zM1236 410h8v8h-8zM1601 511h8v8h-8zM1695 503h7v8h-7zM1796 488h7v8h-7zM2052 511h8v8h-8zM2153 535h8v7h-8zM2254 558h8v8h-8zM2347 558h8v8h-8zM2479 527h8v8h-8zM2736 519h7v8h-7zM2813 558h8v8h-8zM3373 962h7v8h-7zM3380 674h8v8h-8zM3575 636h7v7h-7zM3621 636h8v7h-8zM3683 620h8v8h-8zM3745 604h8v8h-8zM3979 643h7v8h-7zM4041 659h7v8h-7zM4087 667h8v7h-8zM4134 690h8v8h-8z"/><path fill="#7378b4" d="M467 379h8v8h-8zM475 348h8v8h-8zM1205 604h8v8h-8zM1547 511h8v8h-8zM1570 503h8v8h-8zM1935 480h8v8h-8zM1943 488h8v8h-8zM2301 573h7v8h-7zM2666 457h7v8h-7zM2666 472h7v8h-7zM3745 612h8v8h-8z"/><path fill="#bebed7" d="M467 457h8v8h-8z"/><path fill="#b4a0be" d="M467 465h8v7h-8z"/><path fill="#c3c3dc" d="M467 472h8v8h-8zM522 356h7v8h-7zM646 348h8v8h-8zM1120 379h8v8h-8zM1174 387h8v8h-8zM1609 503h8v16h-8zM1881 480h8v8h-8zM1920 496h8v7h-8zM1982 496h8v7h-8zM2083 511h8v16h-8zM2184 535h8v7h-8zM2642 201h8v7h-8zM2650 201h8v7h-8zM2681 201h8v7h-8zM2689 201h8v7h-8zM2705 496h7v7h-7zM2736 511h7v8h-7zM3575 643h7v8h-7zM3839 628h7v8h-7z"/><path fill="#9196c3" d="M467 628h8v8h-8zM599 356h8v8h-8zM693 348h7v8h-7zM1462 480h7v8h-7zM1547 783h8v8h-8zM1555 496h8v7h-8zM1555 783h8v8h-8zM1578 783h8v8h-8zM1671 503h8v8h-8zM1819 488h8v8h-8zM1928 488h7v8h-7zM1935 472h8v8h-8zM2036 503h8v8h-8zM2130 527h7v8h-7zM2161 535h8v7h-8zM2293 581h8v8h-8zM2572 503h8v8h-8zM2642 193h8v8h-8zM2650 193h8v8h-8zM2658 193h8v8h-8zM2666 193h7v8h-7zM2673 193h8v8h-8zM2673 465h8v7h-8zM2673 496h8v7h-8zM2681 193h8v8h-8zM2689 193h8v8h-8zM2852 573h8v8h-8zM2945 620h8v8h-8zM2961 628h8v8h-8zM3007 371h8v8h-8zM3023 674h8v8h-8zM3427 659h8v8h-8zM3443 659h7v8h-7zM3714 620h8v8h-8zM3753 620h8v8h-8zM3769 628h8v8h-8zM3870 628h8v8h-8zM4002 651h8v8h-8zM4017 651h8v8h-8zM4126 674h8v8h-8z"/><path fill="#f0d2d7" d="M467 1078h8v8h-8zM514 768h8v7h-8zM529 760h8v8h-8zM630 698h8v7h-8zM708 667h8v7h-8zM825 597h7v7h-7zM1065 604h8v8h-8zM1166 612h8v8h-8zM1182 604h8v8h-8zM1353 636h8v7h-8zM1361 628h7v8h-7zM1462 643h7v8h-7zM1508 659h8v8h-8zM1617 1001h8v7h-8zM1702 690h8v8h-8zM1982 1078h8v8h-8zM2021 682h8v8h-8zM2137 620h8v8h-8zM2316 511h8v8h-8zM2681 1102h8v7h-8zM2697 1102h8v7h-8zM2782 760h8v8h-8zM2945 775h8v8h-8zM3023 1179h8v8h-8zM3077 791h8v8h-8zM3101 775h7v8h-7zM3132 775h8v8h-8zM3365 698h8v7h-8zM3388 270h8v8h-8zM3528 705h8v8h-8zM3800 760h8v8h-8zM3846 822h8v8h-8zM3940 892h7v8h-7zM4056 993h8v8h-8zM4118 1047h8v8h-8zM4157 604h8v8h-8z"/><path fill="#ebc8cd" d="M467 1086h8v8h-8zM646 690h8v8h-8zM661 682h8v8h-8zM677 682h8v8h-8zM693 674h7v8h-7zM848 270h8v8h-8zM856 270h7v8h-7zM863 270h8v8h-8zM871 270h8v8h-8zM879 270h8v8h-8zM887 589h7v8h-7zM1252 286h8v8h-8zM1252 620h8v8h-8zM1306 628h8v8h-8zM1407 636h8v15h-8zM1617 333h8v7h-8zM1656 674h8v8h-8zM1702 682h8v8h-8zM1796 698h7v15h-7zM1842 713h8v8h-8zM1889 713h8v8h-8zM1974 721h8v8h-8zM2036 682h8v8h-8zM2122 620h8v8h-8zM2262 542h8v8h-8zM2285 519h8v8h-8zM2301 146h7v8h-7zM2308 146h8v8h-8zM2332 146h7v8h-7zM2339 146h8v8h-8zM2339 845h8v8h-8zM2487 604h8v8h-8zM2510 628h8v8h-8zM2728 744h8v8h-8zM2945 783h8v8h-8zM3000 791h7v8h-7zM3155 768h8v7h-8zM3209 744h8v8h-8zM3287 721h8v8h-8zM3342 705h7v8h-7zM3411 278h8v8h-8zM3443 1102h7v7h-7zM3450 690h8v8h-8zM3567 721h8v8h-8zM3645 729h7v15h-7zM3722 752h8v8h-8zM3761 286h8v8h-8zM3769 286h8v8h-8zM3777 286h7v8h-7zM3784 286h8v8h-8zM3792 286h8v8h-8zM3800 286h8v8h-8zM3831 799h8v7h-8zM4017 970h8v7h-8zM4080 1024h7v8h-7z"/><path fill="#9ba0c8" d="M475 107h8v241h-8zM475 387h8v70h-8zM475 480h8v148h-8zM809 340h8v8h-8zM825 356h7v8h-7zM848 333h8v7h-8zM1159 387h7v8h-7zM1190 379h7v16h-7zM1252 410h8v8h-8zM1291 426h7v8h-7zM1547 519h8v8h-8zM1555 511h8v8h-8zM1578 519h8v8h-8zM1974 488h8v8h-8zM1990 496h8v7h-8zM2176 535h8v7h-8zM2192 542h8v8h-8zM2207 542h8v8h-8zM2409 542h8v8h-8zM2541 511h8v8h-8zM2650 472h8v8h-8zM2984 643h8v8h-8zM2992 643h8v8h-8zM3062 667h8v7h-8zM3070 667h7v7h-7zM3077 667h8v7h-8zM3085 667h8v7h-8zM3093 667h8v7h-8zM3101 667h7v7h-7zM3108 667h8v7h-8zM3116 667h8v7h-8zM3124 667h8v7h-8zM3132 667h8v7h-8zM3140 667h7v7h-7zM3147 667h8v7h-8zM3155 667h8v7h-8zM3163 667h8v7h-8zM3171 667h7v7h-7zM3178 667h8v7h-8zM3186 667h8v7h-8zM3194 667h8v7h-8zM3202 667h7v7h-7zM3209 667h8v7h-8zM3217 667h8v7h-8zM3225 667h8v7h-8zM3233 667h8v7h-8zM3241 667h7v7h-7zM3248 667h8v7h-8zM3256 667h8v7h-8zM3264 667h8v7h-8zM3272 667h7v7h-7zM3279 667h8v7h-8zM3287 667h8v7h-8zM3295 667h8v7h-8zM3303 667h7v7h-7zM3310 667h8v7h-8zM3318 667h8v7h-8zM3326 667h8v7h-8zM3334 667h8v7h-8zM3342 667h7v7h-7zM3349 667h8v7h-8zM3357 667h8v7h-8zM3365 667h8v7h-8zM3373 667h7v7h-7zM3559 643h8v8h-8zM3753 604h8v8h-8zM3823 620h8v8h-8zM4095 667h8v7h-8z"/><path fill="#5f64aa" d="M475 364h8v7h-8zM840 340h8v8h-8zM1205 395h8v15h-8zM2666 480h7v8h-7zM3031 651h8v8h-8zM3396 651h8v8h-8zM3761 597h8v7h-8zM4111 667h7v7h-7z"/><path fill="#6e73af" d="M475 371h8v8h-8zM1563 511h7v8h-7zM1920 480h8v8h-8zM1928 480h7v8h-7zM1928 496h7v7h-7zM2285 566h8v7h-8zM2650 480h8v8h-8zM2666 488h7v8h-7zM3015 659h8v8h-8zM3031 659h8v8h-8zM3380 667h8v7h-8zM3396 659h8v8h-8zM4134 659h8v8h-8zM4134 682h8v8h-8z"/><path fill="#9691be" d="M475 457h8v8h-8z"/><path fill="#876496" d="M475 465h8v7h-8z"/><path fill="#969bc3" d="M475 472h8v8h-8z"/><path fill="#8287be" d="M475 628h8v8h-8zM825 340h7v8h-7zM1570 527h8v8h-8zM1570 783h8v8h-8zM1920 472h8v8h-8zM2285 558h8v8h-8zM2293 558h8v15h-8zM2332 558h7v8h-7zM2402 542h7v8h-7zM2596 496h8v7h-8zM2774 535h8v7h-8zM3015 371h8v8h-8zM3023 371h8v8h-8zM3039 371h7v8h-7zM3046 371h8v8h-8zM3380 371h8v8h-8zM3388 371h8v8h-8zM3388 962h8v8h-8zM3404 371h7v8h-7zM3404 962h7v8h-7zM3707 620h7v8h-7zM4103 667h8v7h-8zM4118 667h8v7h-8z"/><path fill="#cd8c96" d="M475 775h8v8h-8z"/><path fill="#e6b9c3" d="M475 1078h8v8h-8zM506 1078h8v8h-8zM514 1078h8v8h-8zM646 698h8v7h-8zM693 667h7v7h-7zM1229 620h7v8h-7zM1260 620h7v8h-7zM1664 682h7v8h-7zM1928 1078h7v8h-7zM1998 705h7v8h-7zM2370 527h8v8h-8zM2510 620h8v8h-8zM2627 705h8v8h-8zM2844 768h8v7h-8zM3310 721h8v8h-8zM3955 907h8v8h-8zM4134 1071h8v7h-8z"/><path fill="#e1a5af" d="M475 1086h8v8h-8zM483 1086h8v8h-8zM491 1086h7v8h-7zM498 1086h8v8h-8zM506 1086h8v8h-8zM514 1086h8v8h-8zM755 636h7v7h-7zM770 628h8v8h-8zM801 612h8v8h-8zM918 589h8v8h-8zM1050 597h8v7h-8zM1104 604h8v8h-8zM1143 604h8v8h-8zM1322 628h8v8h-8zM1423 643h8v8h-8zM1477 651h8v8h-8zM1547 659h8v8h-8zM1625 674h7v8h-7zM1827 705h7v8h-7zM1904 721h8v8h-8zM1982 713h8v8h-8zM2013 690h8v8h-8zM2145 612h8v8h-8zM2176 589h8v8h-8zM2712 744h8v8h-8zM2767 752h7v8h-7zM2821 760h8v8h-8zM2852 768h8v7h-8zM2875 768h8v7h-8zM2907 775h7v8h-7zM2961 783h8v8h-8zM3015 791h8v8h-8zM3295 721h8v8h-8zM3846 814h8v8h-8zM4002 954h8v8h-8zM4025 970h8v7h-8zM4064 1008h8v8h-8z"/><path fill="#9696c8" d="M483 356h8v8h-8zM3901 636h8v7h-8z"/><path fill="#6469aa" d="M483 364h8v7h-8zM817 340h8v8h-8zM1563 496h7v7h-7zM1578 511h8v8h-8zM3031 667h8v7h-8zM3031 682h8v8h-8zM3396 667h8v7h-8zM3761 612h8v8h-8zM3761 628h8v8h-8zM3777 612h7v8h-7z"/><path fill="#a0a0cd" d="M483 371h8v8h-8zM832 76h8v8h-8zM926 356h7v8h-7zM1027 371h7v8h-7zM1081 379h8v8h-8zM1135 387h8v8h-8zM1190 410h7v8h-7zM1337 441h8v8h-8zM1679 503h8v8h-8zM1811 488h8v8h-8zM2277 558h8v8h-8zM2907 604h7v8h-7zM3000 651h7v8h-7zM3924 636h8v7h-8zM3947 643h8v8h-8zM4072 659h8v8h-8z"/><path fill="#f5e1e6" d="M483 457h8v8h-8zM491 457h7v8h-7zM498 457h8v8h-8zM506 457h8v8h-8zM514 457h8v8h-8zM964 597h8v7h-8zM1096 597h8v7h-8zM1314 620h8v8h-8zM1368 628h8v8h-8zM1469 643h8v8h-8zM1695 690h7v8h-7zM1741 698h8v7h-8zM1982 705h8v8h-8zM2052 674h8v8h-8zM2106 628h8v8h-8zM2145 604h8v8h-8zM2471 604h8v8h-8zM2495 620h8v8h-8zM2526 628h8v8h-8zM2642 705h8v8h-8zM2774 760h8v8h-8zM2953 775h8v8h-8zM3108 783h8v8h-8zM3598 729h8v8h-8zM3637 737h8v7h-8zM3753 760h8v8h-8zM3916 884h8v8h-8zM3986 931h8v8h-8zM4048 985h8v8h-8zM4157 612h8v365h-8zM4157 993h8v85h-8zM4157 1094h8v474h-8z"/><path fill="#d27887" d="M483 465h8v7h-8zM491 465h7v163h-7zM491 643h7v125h-7zM491 791h7v295h-7zM498 465h8v7h-8zM506 465h8v7h-8zM514 465h8v7h-8zM1221 286h8v8h-8zM1229 286h7v8h-7zM1236 286h8v8h-8zM1244 286h8v8h-8zM1578 333h8v7h-8zM1586 333h8v7h-8zM1594 333h7v7h-7zM1601 333h8v7h-8zM1609 333h8v7h-8zM1943 379h8v8h-8zM1951 379h8v8h-8zM1959 379h8v8h-8zM1967 379h7v8h-7zM1974 379h8v8h-8zM2689 379h8v109h-8zM2689 503h8v234h-8zM2689 752h8v8h-8zM2689 775h8v334h-8zM3046 410h8v8h-8zM3054 410h8v8h-8zM3062 410h8v8h-8zM3070 410h7v8h-7zM3077 410h8v8h-8zM3396 270h8v8h-8zM3404 270h7v8h-7zM3411 270h8v8h-8zM3419 270h8v8h-8zM3427 270h8v8h-8zM3435 270h8v8h-8zM3761 1226h8v8h-8zM3769 1226h8v8h-8zM3777 1226h7v8h-7zM3784 309h8v303h-8zM3784 628h8v124h-8zM3784 775h8v148h-8zM3784 939h8v295h-8zM3792 1226h8v8h-8zM3800 1226h8v8h-8zM4142 597h7v7h-7zM4149 597h8v7h-8zM4149 1071h8v7h-8zM4149 1086h8v8h-8zM4157 597h8v7h-8zM4165 597h8v7h-8zM4173 597h8v7h-8z"/><path fill="#f5e6eb" d="M483 472h8v8h-8zM887 892h7v8h-7zM1446 651h8v8h-8zM1524 651h8v8h-8zM2169 589h7v8h-7zM2277 535h8v7h-8zM2456 581h8v8h-8zM2479 597h8v7h-8zM2503 612h7v8h-7zM2518 636h8v7h-8zM2596 674h8v8h-8zM2635 713h7v8h-7zM2712 1102h8v7h-8zM2743 744h8v8h-8zM2798 752h8v8h-8zM2875 775h8v8h-8zM2930 783h8v8h-8zM3147 760h8v8h-8zM3279 721h8v8h-8zM3334 705h8v8h-8zM3388 1102h8v7h-8zM3497 698h8v7h-8zM3536 705h8v8h-8zM3777 752h7v8h-7zM3862 838h8v7h-8zM3979 939h7v7h-7z"/><path fill="#faf0f5" d="M483 480h8v148h-8zM483 643h8v125h-8zM483 791h8v287h-8zM918 581h8v8h-8zM1019 589h8v8h-8zM1322 620h8v8h-8zM1423 636h8v7h-8zM1811 698h8v7h-8zM1858 705h8v8h-8zM1943 371h8v8h-8zM1951 371h8v8h-8zM1959 371h8v8h-8zM1967 371h7v8h-7zM1974 371h8v8h-8zM2767 760h7v8h-7zM2821 768h8v7h-8zM2907 768h7v7h-7zM2961 775h8v8h-8zM3070 799h7v7h-7zM3396 263h8v7h-8zM3404 263h7v7h-7zM3411 263h8v7h-8zM3419 263h8v7h-8zM3427 263h8v7h-8zM3435 263h8v7h-8zM3512 713h8v8h-8zM3777 1218h7v8h-7zM3792 309h8v303h-8zM3792 628h8v124h-8zM3792 783h8v140h-8zM3792 931h8v287h-8zM3979 923h7v8h-7zM4095 1024h8v8h-8zM4134 1086h8v8h-8z"/><path fill="#a0a0c8" d="M483 628h8v8h-8zM1532 503h7v8h-7zM2969 636h7v7h-7zM3613 636h8v7h-8zM3637 628h8v8h-8z"/><path fill="#afaacd" d="M483 636h8v7h-8z"/><path fill="#faebf0" d="M483 768h8v7h-8zM537 744h8v8h-8zM623 713h7v8h-7zM638 705h8v8h-8zM731 643h8v8h-8zM786 628h8v8h-8zM1104 597h8v7h-8zM1718 682h8v8h-8zM1780 705h8v8h-8zM3295 729h8v8h-8zM3777 768h7v7h-7zM3792 752h8v8h-8zM3870 845h8v8h-8zM3924 892h8v8h-8zM4041 993h7v8h-7zM4142 589h7v8h-7zM4149 589h8v8h-8zM4157 589h8v8h-8zM4165 589h8v8h-8zM4173 589h8v8h-8z"/><path fill="#b9505f" d="M483 775h8v8h-8zM3792 760h8v8h-8z"/><path fill="#faebeb" d="M483 783h8v8h-8zM553 737h7v7h-7zM592 729h7v8h-7zM607 721h8v8h-8zM716 651h8v8h-8zM801 620h8v8h-8zM957 597h7v7h-7zM1291 628h7v8h-7zM1392 643h7v8h-7zM1765 690h7v8h-7zM1990 713h8v8h-8zM2005 690h8v8h-8zM2153 612h8v8h-8zM2386 535h8v7h-8zM2433 566h7v7h-7zM2541 651h8v8h-8zM2565 667h7v7h-7zM2611 698h8v7h-8zM2681 729h8v8h-8zM2984 791h8v8h-8zM4142 604h7v8h-7zM4165 604h8v8h-8zM4173 604h8v8h-8z"/><path fill="#e6b4b9" d="M483 1078h8v8h-8zM514 760h8v8h-8zM615 713h8v8h-8zM708 659h8v8h-8zM724 651h7v8h-7zM794 620h7v8h-7zM879 581h8v8h-8zM964 589h8v8h-8zM1500 651h8v8h-8zM1695 682h7v8h-7zM1928 1086h7v8h-7zM1935 1078h8v8h-8zM1943 1078h8v8h-8zM1967 1078h7v8h-7zM1974 1078h8v8h-8zM2262 535h8v7h-8zM3108 775h8v8h-8zM3186 752h8v8h-8zM3264 729h8v8h-8zM3443 690h7v8h-7zM3481 698h8v7h-8zM3575 721h7v8h-7zM3753 752h8v8h-8zM4072 1016h8v8h-8z"/><path fill="#8c6996" d="M491 628h7v8h-7zM2324 558h8v8h-8zM4126 597h8v7h-8z"/><path fill="#966991" d="M491 636h7v7h-7zM3784 612h8v8h-8z"/><path fill="#d27382" d="M491 768h7v7h-7z"/><path fill="#af374b" d="M491 775h7v8h-7zM1221 612h8v8h-8zM1594 667h7v7h-7zM4149 1078h8v8h-8z"/><path fill="#d27882" d="M491 783h7v8h-7zM3784 752h8v8h-8z"/><path fill="#bec3dc" d="M498 100h8v7h-8zM770 348h8v8h-8zM778 340h8v8h-8zM910 348h8v8h-8zM964 356h8v8h-8zM1702 496h8v15h-8zM1788 488h8v8h-8zM1943 465h8v7h-8zM2448 527h8v8h-8zM2751 519h8v8h-8zM3015 651h8v8h-8zM4111 659h7v8h-7z"/><path fill="#d7dceb" d="M498 356h8v8h-8zM794 348h7v8h-7zM1058 379h7v8h-7zM1112 387h8v8h-8zM1197 402h8v8h-8zM1508 488h8v8h-8zM1625 511h7v8h-7zM1866 480h7v8h-7zM1897 488h7v8h-7zM1990 488h8v8h-8zM2145 535h8v7h-8zM2510 511h8v8h-8zM2922 604h8v8h-8zM3007 364h8v7h-8zM3528 651h8v8h-8zM3613 628h8v8h-8zM3846 620h8v8h-8zM4157 356h8v8h-8z"/><path fill="#f5dce1" d="M498 472h8v8h-8zM498 783h8v8h-8zM568 729h8v8h-8zM599 713h8v8h-8zM778 620h8v8h-8zM794 612h7v8h-7zM832 884h8v8h-8zM1058 604h7v8h-7zM1159 612h7v8h-7zM1190 604h7v8h-7zM1260 612h7v8h-7zM1415 636h8v7h-8zM1555 667h8v7h-8zM1601 674h8v8h-8zM1664 674h7v8h-7zM1803 698h8v7h-8zM1834 713h8v8h-8zM1850 705h8v8h-8zM1897 713h7v8h-7zM2013 698h8v7h-8zM2176 597h8v7h-8zM2270 527h7v8h-7zM2293 146h8v8h-8zM2425 573h8v8h-8zM2572 659h8v8h-8zM3318 721h8v8h-8zM3373 705h7v8h-7zM3443 698h7v7h-7zM3520 713h8v8h-8zM3652 729h8v8h-8zM3676 744h7v8h-7zM3800 783h8v8h-8zM3808 286h7v8h-7zM3815 783h8v8h-8zM3878 838h7v7h-7zM3994 939h8v7h-8zM4033 985h8v8h-8zM4095 1039h8v8h-8z"/><path fill="#f5e6e6" d="M498 480h8v148h-8zM498 643h8v125h-8zM498 791h8v287h-8zM576 737h8v7h-8zM747 636h8v7h-8zM770 636h8v7h-8zM1050 604h8v8h-8zM1151 612h8v8h-8zM1221 278h8v8h-8zM1229 278h7v8h-7zM1236 278h8v8h-8zM1244 278h8v8h-8zM1252 939h8v7h-8zM1345 636h8v7h-8zM1500 659h8v8h-8zM1617 1008h8v8h-8zM2044 667h8v7h-8zM2114 636h8v7h-8zM2207 566h8v7h-8zM2215 573h8v8h-8zM2316 154h8v124h-8zM2316 294h8v202h-8zM2316 519h8v31h-8zM2316 589h8v249h-8zM2355 527h8v8h-8zM2363 519h7v8h-7zM2402 558h7v8h-7zM2409 550h8v8h-8zM2448 589h8v8h-8zM2549 643h8v8h-8zM2588 682h8v8h-8zM2852 760h8v8h-8zM3023 1187h8v8h-8zM3046 402h8v8h-8zM3054 402h8v8h-8zM3062 402h8v8h-8zM3070 402h7v8h-7zM3070 783h7v8h-7zM3077 402h8v8h-8zM3202 744h7v8h-7zM3575 713h7v8h-7zM3691 737h8v7h-8zM3730 744h8v8h-8zM3761 1234h8v7h-8zM3769 1234h8v7h-8zM3777 1234h7v7h-7zM3784 1234h8v7h-8zM3792 1234h8v7h-8zM3800 1234h8v7h-8zM3870 830h8v8h-8zM3932 884h8v8h-8zM4111 1039h7v8h-7z"/><path fill="#cdc8dc" d="M498 628h8v8h-8zM2681 760h8v8h-8zM3792 612h8v8h-8z"/><path fill="#d7cddc" d="M498 636h8v7h-8z"/><path fill="#e1aaaf" d="M498 768h8v7h-8zM1244 612h8v8h-8zM1671 682h8v8h-8zM3070 791h7v8h-7zM3241 737h7v7h-7zM3279 729h8v8h-8zM3349 705h8v8h-8zM4118 1055h8v8h-8z"/><path fill="#b44655" d="M498 775h8v8h-8zM1236 612h8v8h-8z"/><path fill="#e1afb4" d="M498 1078h8v8h-8zM1003 597h8v7h-8zM1058 597h7v7h-7zM1291 620h7v8h-7zM1586 340h8v8h-8zM1586 659h8v8h-8zM2743 752h8v8h-8zM3054 418h8v241h-8zM3054 674h8v117h-8zM3054 806h8v140h-8zM3054 970h8v209h-8zM3202 752h7v8h-7zM3334 713h8v8h-8zM3373 698h7v7h-7zM3691 744h8v8h-8zM3947 907h8v8h-8zM3963 915h8v8h-8zM4080 1016h7v8h-7z"/><path fill="#d2d2e6" d="M506 356h8v8h-8zM537 364h8v7h-8zM786 348h8v8h-8zM825 612h7v8h-7zM832 612h8v8h-8zM840 612h8v8h-8zM848 612h8v8h-8zM1073 371h8v8h-8zM1904 201h8v7h-8zM1904 760h8v8h-8zM2052 503h8v8h-8zM2114 527h8v8h-8zM2293 838h8v7h-8zM2588 503h8v8h-8zM2642 760h8v8h-8zM2650 760h8v8h-8zM2860 573h8v8h-8zM2969 628h7v8h-7zM3380 970h8v7h-8zM3388 970h8v7h-8zM3396 970h8v7h-8zM3404 970h7v7h-7zM3512 643h8v8h-8zM3769 309h8v288h-8zM3769 636h8v116h-8zM3769 775h8v148h-8zM3979 651h7v8h-7zM4041 651h7v8h-7zM4111 977h7v8h-7zM4118 977h8v8h-8zM4142 977h7v8h-7z"/><path fill="#aaafd2" d="M506 364h8v7h-8zM623 356h7v8h-7zM669 348h8v8h-8zM825 333h7v7h-7zM825 348h7v8h-7zM902 348h8v8h-8zM957 356h7v8h-7zM1058 371h7v8h-7zM1112 379h8v8h-8zM1190 402h7v8h-7zM1330 434h7v7h-7zM1555 519h8v8h-8zM1625 503h7v8h-7zM1687 503h8v8h-8zM1803 488h8v8h-8zM1897 480h7v8h-7zM1928 216h7v155h-7zM1928 395h7v70h-7zM1928 503h7v218h-7zM1928 737h7v23h-7zM2355 550h8v8h-8zM2487 519h8v8h-8zM3015 674h8v8h-8zM3738 923h7v8h-7zM4142 659h7v8h-7z"/><path fill="#faf5f5" d="M506 472h8v8h-8zM514 472h8v8h-8zM654 698h7v7h-7zM685 667h8v7h-8zM887 270h7v8h-7zM887 884h7v8h-7zM949 597h8v7h-8zM1112 597h8v7h-8zM1252 278h8v8h-8zM1376 628h8v8h-8zM1477 643h8v8h-8zM1493 659h7v8h-7zM1640 682h8v8h-8zM1687 690h8v8h-8zM1873 721h8v8h-8zM1920 729h8v8h-8zM1943 387h8v8h-8zM1967 387h7v8h-7zM1967 713h7v8h-7zM1974 387h8v8h-8zM2005 705h8v8h-8zM2029 690h7v8h-7zM2130 612h7v8h-7zM2192 573h8v8h-8zM2192 589h8v8h-8zM2681 387h8v78h-8zM2681 503h8v226h-8zM2681 752h8v8h-8zM2681 775h8v327h-8zM2697 387h8v101h-8zM2697 511h8v226h-8zM2697 752h8v8h-8zM2697 775h8v327h-8zM2860 760h8v8h-8zM3085 410h8v8h-8zM3085 791h8v8h-8zM3093 775h8v8h-8zM3140 775h7v8h-7zM3171 752h7v8h-7zM3225 737h8v7h-8zM3396 278h8v8h-8zM3404 278h7v8h-7zM3427 278h8v8h-8zM3435 278h8v8h-8zM3435 698h8v7h-8zM3443 263h7v7h-7zM3443 278h7v8h-7zM3466 690h8v8h-8zM3551 721h8v8h-8zM3660 729h8v8h-8zM3707 752h7v8h-7zM3753 1226h8v8h-8zM3777 309h7v288h-7zM3777 636h7v116h-7zM3777 775h7v148h-7zM3777 939h7v279h-7zM3800 768h8v7h-8zM3916 869h8v7h-8zM3932 900h8v7h-8zM3994 954h8v8h-8zM4048 1001h8v7h-8zM4111 1055h7v8h-7z"/><path fill="#faf0f0" d="M506 760h8v8h-8zM522 752h7v8h-7zM700 659h8v8h-8zM1042 604h8v8h-8zM1143 612h8v8h-8zM1267 612h8v8h-8zM1547 667h8v7h-8zM1601 659h8v8h-8zM1617 340h8v8h-8zM1625 667h7v7h-7zM1671 674h8v8h-8zM1827 713h7v8h-7zM1904 713h8v8h-8zM2068 651h7v8h-7zM2091 651h8v8h-8zM2712 752h8v8h-8zM3015 783h8v8h-8zM3163 768h8v7h-8zM3217 752h8v8h-8zM3349 713h8v8h-8zM3435 682h8v8h-8zM3474 705h7v8h-7zM3668 744h8v8h-8zM3792 1218h8v8h-8zM3808 775h7v8h-7zM3808 791h7v8h-7zM3808 1234h7v7h-7zM3862 822h8v8h-8zM3924 876h8v8h-8zM3986 946h8v8h-8zM4041 977h7v8h-7zM4103 1032h8v7h-8zM4142 1086h7v8h-7z"/><path fill="#dc96a0" d="M506 768h8v7h-8zM638 698h8v7h-8zM654 690h7v8h-7zM700 667h8v7h-8zM1019 597h8v7h-8zM1120 604h8v8h-8zM1128 604h7v8h-7zM1221 294h8v101h-8zM1221 410h8v202h-8zM1221 628h8v31h-8zM1221 682h8v249h-8zM1376 636h8v7h-8zM1563 1001h7v7h-7zM1632 674h8v8h-8zM1819 705h8v8h-8zM1866 713h7v8h-7zM1912 721h8v8h-8zM2005 698h8v7h-8zM2169 597h7v7h-7zM2759 752h8v8h-8zM3140 768h7v7h-7zM3272 729h7v8h-7zM3443 270h7v8h-7zM3505 705h7v8h-7zM3660 737h8v7h-8zM3792 768h8v7h-8zM3808 783h7v8h-7zM3870 838h8v7h-8z"/><path fill="#cd8791" d="M506 775h8v8h-8z"/><path fill="#c8cde1" d="M514 356h8v8h-8zM1019 364h8v7h-8zM1306 434h8v7h-8zM1500 496h8v7h-8zM1796 496h7v7h-7zM2347 550h8v8h-8zM2673 760h8v8h-8zM3466 659h8v8h-8zM3738 620h7v8h-7z"/><path fill="#b4b4d7" d="M514 364h8v7h-8zM630 356h8v8h-8zM661 348h8v8h-8zM918 356h8v8h-8zM1073 379h8v8h-8zM1128 387h7v8h-7zM1174 667h8v7h-8zM2013 496h8v7h-8zM2114 519h8v8h-8zM2720 511h8v8h-8zM2767 535h7v7h-7zM3373 371h7v8h-7zM3512 651h8v8h-8zM3940 643h7v8h-7zM4080 659h7v8h-7z"/><path fill="#bebedc" d="M522 364h7v7h-7zM964 364h8v7h-8zM1065 371h8v8h-8zM1174 395h8v7h-8zM1260 418h7v8h-7zM1788 496h8v7h-8zM1920 465h8v7h-8zM2417 535h8v15h-8zM2549 511h8v8h-8zM2658 760h8v8h-8zM2673 201h8v7h-8zM2767 527h7v8h-7zM3388 682h8v8h-8zM3520 643h8v8h-8zM3986 651h8v8h-8zM4033 651h8v8h-8zM4103 985h8v8h-8zM4134 364h8v225h-8zM4134 612h8v39h-8zM4134 698h8v279h-8z"/><path fill="#dc9ba5" d="M522 760h7v8h-7zM669 682h8v8h-8zM685 674h8v8h-8zM926 589h7v8h-7zM941 589h8v8h-8zM1042 597h8v7h-8zM1135 604h8v8h-8zM1205 931h8v8h-8zM1213 931h8v8h-8zM1236 931h8v8h-8zM1244 931h8v8h-8zM1275 620h8v8h-8zM1283 620h8v8h-8zM1330 628h7v8h-7zM1431 643h7v8h-7zM1485 651h8v8h-8zM1726 690h7v8h-7zM1733 690h8v8h-8zM1780 698h8v7h-8zM2052 667h8v7h-8zM2068 659h7v8h-7zM2091 643h8v8h-8zM2106 636h8v7h-8zM2192 581h8v8h-8zM2215 566h8v7h-8zM2231 558h7v8h-7zM2254 542h8v8h-8zM2270 535h7v7h-7zM2332 853h7v8h-7zM2339 853h8v8h-8zM2378 535h8v7h-8zM2433 573h7v8h-7zM2471 597h8v7h-8zM2479 604h8v8h-8zM2503 620h7v8h-7zM2518 628h8v8h-8zM2526 636h8v7h-8zM2565 659h7v8h-7zM2611 690h8v8h-8zM2619 698h8v7h-8zM2751 752h8v8h-8zM2813 760h8v8h-8zM2914 775h8v8h-8zM2969 783h7v8h-7zM3031 1179h8v8h-8zM3039 1179h7v8h-7zM3062 1179h8v8h-8zM3070 1179h7v8h-7zM3077 1179h8v8h-8zM3116 775h8v8h-8zM3225 744h8v8h-8zM3303 721h7v8h-7zM3326 713h8v8h-8zM3357 705h8v8h-8zM3474 698h7v7h-7zM3582 721h8v8h-8zM3629 729h8v8h-8zM3699 744h8v8h-8zM3738 752h7v8h-7zM3745 752h8v8h-8zM3862 830h8v8h-8zM3878 845h7v8h-7zM3924 884h8v8h-8zM3932 892h8v8h-8zM4095 1032h8v7h-8zM4103 1039h8v8h-8zM4111 1047h7v8h-7z"/><path fill="#c8c8e1" d="M529 364h8v7h-8zM770 340h8v8h-8zM778 348h8v8h-8zM832 348h8v8h-8zM910 356h8v8h-8zM1011 371h8v8h-8zM1065 379h8v8h-8zM1330 441h7v8h-7zM1524 503h8v8h-8zM2013 503h8v8h-8zM2215 550h8v8h-8zM2386 550h8v8h-8zM2518 519h8v8h-8zM2549 503h8v8h-8zM2829 558h8v8h-8zM3676 620h7v8h-7zM3885 636h8v7h-8zM3932 643h8v8h-8zM3986 643h8v8h-8zM4033 659h8v8h-8zM4087 659h8v8h-8zM4142 682h7v8h-7z"/><path fill="#e6b4be" d="M529 752h8v8h-8zM832 892h8v8h-8zM1399 636h8v7h-8zM1415 643h8v8h-8zM1469 651h8v8h-8zM1555 659h8v8h-8zM1648 674h8v8h-8zM1803 705h8v8h-8zM1850 713h8v8h-8zM1881 713h8v8h-8zM1974 713h8v8h-8zM2021 690h8v8h-8zM2137 612h8v8h-8zM2184 589h8v8h-8zM2774 752h8v8h-8zM2829 760h8v8h-8zM2899 775h8v8h-8zM2953 783h8v8h-8zM3443 1094h7v8h-7zM3598 721h8v8h-8zM3613 729h8v8h-8zM3714 744h8v8h-8zM3808 294h7v7h-7zM4126 1063h8v8h-8z"/><path fill="#afb4d2" d="M537 356h8v8h-8zM755 348h7v8h-7zM1384 457h8v8h-8zM1407 465h8v7h-8zM1594 232h7v7h-7zM2044 503h8v8h-8zM2122 527h8v8h-8zM2580 503h8v8h-8zM2705 503h7v8h-7zM4118 674h8v8h-8z"/><path fill="#dca0aa" d="M537 752h8v8h-8zM553 744h7v8h-7zM623 705h7v8h-7zM716 659h8v8h-8zM731 651h8v8h-8zM1112 604h8v8h-8zM1337 628h8v8h-8zM1438 643h8v8h-8zM1990 705h8v8h-8zM2044 674h8v8h-8zM2114 628h8v8h-8zM2153 604h8v8h-8zM2277 527h8v8h-8zM2339 511h8v8h-8zM2363 527h7v8h-7zM2402 550h7v8h-7zM2425 566h8v7h-8zM2448 581h8v8h-8zM2456 589h8v8h-8zM2541 643h8v8h-8zM2572 667h8v7h-8zM2596 682h8v8h-8zM2635 705h7v8h-7zM2806 760h7v8h-7zM2922 775h8v8h-8zM2976 783h8v8h-8zM3171 760h7v8h-7zM3396 1094h8v8h-8zM3404 1094h7v8h-7zM3427 1094h8v8h-8zM3435 1094h8v8h-8zM3551 713h8v8h-8zM3590 721h8v8h-8zM3621 729h8v8h-8zM3800 775h8v8h-8zM3854 822h8v8h-8zM3916 876h8v8h-8zM3940 900h7v7h-7zM3994 946h8v8h-8zM4048 993h8v8h-8zM4056 1001h8v7h-8z"/><path fill="#e6afb9" d="M545 744h8v8h-8zM584 729h8v8h-8zM599 721h8v8h-8zM630 705h8v8h-8zM739 643h8v8h-8zM778 628h8v8h-8zM863 884h8v8h-8zM1096 604h8v8h-8zM1151 604h8v8h-8zM1345 628h8v8h-8zM1446 643h8v8h-8zM1524 659h8v8h-8zM1741 690h8v8h-8zM1788 698h8v7h-8zM1982 379h8v8h-8zM2658 1109h8v8h-8zM2798 760h8v8h-8zM2930 775h8v8h-8zM3046 418h8v233h-8zM3046 690h8v101h-8zM3046 806h8v140h-8zM3046 970h8v209h-8zM3124 775h8v8h-8zM3256 737h8v7h-8zM3637 729h8v8h-8zM3652 737h8v7h-8zM3676 737h7v7h-7zM3730 752h8v8h-8zM3901 861h8v8h-8zM4134 1063h8v8h-8z"/><path fill="#f0d7dc" d="M545 752h8v8h-8zM560 744h8v8h-8zM584 721h8v8h-8zM615 705h8v8h-8zM724 659h7v8h-7zM739 651h8v8h-8zM755 643h7v8h-7zM894 581h8v8h-8zM972 597h8v7h-8zM995 589h8v8h-8zM1089 597h7v7h-7zM1197 939h8v7h-8zM1252 931h8v8h-8zM1399 643h8v8h-8zM1454 651h8v8h-8zM1578 340h8v8h-8zM1601 340h8v8h-8zM1609 340h8v8h-8zM1710 682h8v8h-8zM1757 690h8v8h-8zM1788 705h8v8h-8zM1974 729h8v8h-8zM2075 659h8v8h-8zM2083 643h8v8h-8zM2246 542h8v8h-8zM2712 379h8v8h-8zM2736 744h7v8h-7zM2790 752h8v8h-8zM2883 775h8v8h-8zM2938 783h7v8h-7zM2992 791h8v8h-8zM3178 752h8v8h-8zM3256 729h8v8h-8zM3264 737h8v7h-8zM3481 705h8v8h-8zM3971 931h8v8h-8zM4087 1032h8v7h-8z"/><path fill="#e1e6f0" d="M553 364h7v7h-7zM3373 970h7v7h-7zM3380 651h8v8h-8zM3505 643h7v8h-7zM4072 667h8v7h-8z"/><path fill="#e1aab4" d="M560 737h8v7h-8zM957 589h7v8h-7zM1267 620h8v8h-8zM1368 636h8v7h-8zM1718 690h8v8h-8zM1935 1086h8v8h-8zM1943 1086h8v8h-8zM1951 1086h8v8h-8zM1959 1086h8v8h-8zM1967 1086h7v8h-7zM1974 1086h8v8h-8zM2075 651h8v8h-8zM2083 651h8v8h-8zM3458 698h8v7h-8zM3497 705h8v8h-8zM3536 713h8v8h-8zM3808 1226h7v8h-7zM3831 806h8v8h-8zM3885 853h8v8h-8zM4017 962h8v8h-8z"/><path fill="#9191c3" d="M568 356h8v8h-8zM848 348h8v8h-8zM980 364h8v7h-8zM2293 550h8v8h-8zM2899 597h8v7h-8zM3404 674h7v8h-7zM3699 620h8v8h-8zM3769 604h8v8h-8z"/><path fill="#e1a0aa" d="M568 737h8v7h-8zM576 729h8v8h-8zM592 721h7v8h-7zM607 713h8v8h-8zM747 643h8v8h-8zM762 636h8v7h-8zM786 620h8v8h-8zM949 589h8v8h-8zM1011 597h8v7h-8zM1493 651h7v8h-7zM1532 659h7v8h-7zM1640 674h8v8h-8zM1687 682h8v8h-8zM1765 698h7v7h-7zM1811 705h8v8h-8zM1858 713h8v8h-8zM1873 713h8v8h-8zM1920 721h8v8h-8zM1951 1078h8v8h-8zM2207 573h8v8h-8zM2355 519h8v8h-8zM2409 558h8v8h-8zM2495 612h8v8h-8zM2549 651h8v8h-8zM2588 674h8v8h-8zM2642 713h8v8h-8zM2681 371h8v8h-8zM2689 371h8v8h-8zM2697 371h8v8h-8zM2705 371h7v8h-7zM3085 783h8v8h-8zM3093 783h8v8h-8zM3147 768h8v7h-8zM3163 760h8v8h-8zM3512 705h8v8h-8zM3707 744h7v8h-7zM3815 791h8v8h-8zM3823 799h8v7h-8zM3909 869h7v7h-7zM3971 923h8v8h-8zM4033 977h8v8h-8zM4087 1024h8v8h-8zM4142 1071h7v7h-7z"/><path fill="#878cbe" d="M576 356h8v8h-8zM584 356h8v8h-8zM592 356h7v8h-7zM700 348h8v8h-8zM708 348h8v8h-8zM716 348h8v8h-8zM840 84h8v186h-8zM840 286h8v39h-8zM840 364h8v217h-8zM887 348h7v8h-7zM941 356h8v8h-8zM995 364h8v7h-8zM1042 371h8v8h-8zM1096 379h8v8h-8zM1151 387h8v8h-8zM1190 395h7v7h-7zM1298 426h8v8h-8zM1345 441h8v8h-8zM1368 449h8v8h-8zM1392 457h7v8h-7zM1493 488h7v8h-7zM1539 503h8v8h-8zM1563 239h7v8h-7zM1656 503h8v8h-8zM1664 503h7v8h-7zM1757 496h8v7h-8zM1827 488h7v8h-7zM1834 488h8v8h-8zM1967 488h7v8h-7zM2068 511h7v8h-7zM2099 519h7v8h-7zM2137 527h8v8h-8zM2200 542h7v8h-7zM2270 558h7v8h-7zM2464 527h7v8h-7zM2565 503h7v8h-7zM2604 496h7v7h-7zM2635 488h7v8h-7zM2650 488h8v8h-8zM2658 480h8v16h-8zM2743 519h8v8h-8zM2759 527h8v8h-8zM2837 566h7v7h-7zM3007 954h8v8h-8zM3380 962h8v8h-8zM3544 643h7v8h-7zM3551 643h8v8h-8zM3606 636h7v7h-7zM3769 597h8v7h-8zM3769 620h8v8h-8zM3815 620h8v8h-8zM3862 628h8v8h-8zM3916 636h8v7h-8zM4010 651h7v8h-7zM4111 674h7v8h-7zM4118 659h8v8h-8z"/><path fill="#ebf0f5" d="M607 348h8v8h-8zM848 325h8v8h-8zM1104 387h8v8h-8zM1182 379h8v8h-8zM1912 768h8v7h-8zM1920 768h8v7h-8zM1928 768h7v7h-7zM1935 768h8v7h-8zM1943 768h8v7h-8zM2868 589h7v8h-7zM3039 643h7v8h-7zM3404 379h7v264h-7zM3404 705h7v257h-7z"/><path fill="#cdcde1" d="M638 348h8v8h-8zM654 356h7v8h-7zM832 333h8v7h-8zM1236 402h8v8h-8zM1695 496h7v7h-7zM1710 503h8v8h-8zM1780 488h8v8h-8zM2580 496h8v7h-8zM2844 566h8v7h-8zM2875 581h8v8h-8zM3567 636h8v7h-8zM3629 636h8v7h-8zM3730 612h8v8h-8zM4080 667h7v7h-7z"/><path fill="#b9bedc" d="M638 356h8v8h-8zM654 348h7v8h-7zM1454 480h8v8h-8zM1982 488h8v8h-8zM2184 542h8v8h-8zM2215 542h8v8h-8zM3676 628h7v8h-7z"/><path fill="#fffafa" d="M638 690h8v8h-8zM654 682h7v8h-7zM669 674h8v8h-8zM685 682h8v8h-8zM700 674h8v8h-8zM1034 604h8v8h-8zM1135 612h8v8h-8zM1337 636h8v7h-8zM1384 643h8v8h-8zM1438 651h8v8h-8zM1733 698h8v7h-8zM1982 387h8v8h-8zM2029 674h7v8h-7zM2052 659h8v8h-8zM2091 636h8v7h-8zM2106 643h8v8h-8zM2130 628h7v8h-7zM2169 604h7v8h-7zM2215 558h8v8h-8zM2378 527h8v8h-8zM2471 589h8v8h-8zM2479 612h8v8h-8zM2518 620h8v8h-8zM2526 643h8v8h-8zM2611 682h8v8h-8zM2619 705h8v8h-8zM2751 744h8v8h-8zM2806 752h7v8h-7zM2922 783h8v8h-8zM2976 791h8v8h-8zM3085 1179h8v8h-8zM3272 737h7v7h-7zM3303 713h7v8h-7zM3582 713h8v8h-8zM3590 729h8v8h-8zM3738 744h7v8h-7zM3745 760h8v8h-8zM3823 806h8v8h-8zM3878 853h7v8h-7zM3909 861h7v8h-7zM3940 907h7v8h-7zM3971 915h8v8h-8zM4025 962h8v8h-8zM4033 970h8v7h-8zM4087 1016h8v8h-8z"/><path fill="#ebc3c8" d="M661 690h8v8h-8zM677 674h8v8h-8zM894 589h8v8h-8zM988 597h7v7h-7zM1073 597h8v7h-8zM1081 604h8v8h-8zM1166 604h8v8h-8zM1182 612h8v8h-8zM1197 931h8v8h-8zM1229 294h7v108h-7zM1229 418h7v186h-7zM1229 628h7v31h-7zM1229 682h7v249h-7zM1353 628h8v8h-8zM1454 643h8v8h-8zM1508 651h8v8h-8zM1516 659h8v8h-8zM1563 1008h7v8h-7zM1609 667h8v7h-8zM1749 690h8v8h-8zM1998 698h7v7h-7zM2099 643h7v8h-7zM2293 138h8v8h-8zM2347 511h8v8h-8zM2370 535h8v7h-8zM2440 573h8v8h-8zM2712 371h8v8h-8zM2790 760h8v8h-8zM2837 760h7v8h-7zM3031 1187h8v8h-8zM3039 1187h7v8h-7zM3046 1187h8v8h-8zM3054 1187h8v8h-8zM3062 1187h8v8h-8zM3070 1187h7v8h-7zM3077 783h8v8h-8zM3077 1187h8v8h-8zM3101 783h7v8h-7zM3155 760h8v8h-8zM3450 698h8v7h-8zM3528 713h8v8h-8zM3792 775h8v8h-8zM3901 869h8v7h-8zM3947 900h8v7h-8zM4072 1008h8v8h-8z"/><path fill="#faf5fa" d="M669 690h8v8h-8zM848 597h8v7h-8zM1532 651h7v8h-7zM1982 371h8v8h-8zM2254 535h8v7h-8zM2868 775h7v8h-7zM3248 729h8v8h-8zM3357 698h8v7h-8zM3621 721h8v8h-8zM3815 799h8v7h-8zM3854 814h8v8h-8zM4056 1008h8v8h-8z"/><path fill="#f5fafa" d="M724 340h7v8h-7zM1345 449h8v8h-8zM2029 496h7v7h-7zM2169 542h7v8h-7zM2231 542h7v8h-7zM2635 768h7v7h-7z"/><path fill="#8c91c3" d="M724 348h7v8h-7zM879 348h8v8h-8zM933 356h8v8h-8zM1034 371h8v8h-8zM1089 379h7v8h-7zM1143 387h8v8h-8zM1244 410h8v8h-8zM1275 418h8v8h-8zM1469 480h8v8h-8zM1733 496h8v7h-8zM2005 496h8v7h-8zM2363 550h7v8h-7zM2495 519h8v8h-8zM2627 488h8v8h-8zM2658 465h8v7h-8zM2658 496h8v7h-8zM2790 542h8v8h-8zM2868 581h7v8h-7zM2883 589h8v8h-8zM2976 636h8v7h-8zM3380 659h8v8h-8zM3388 674h8v8h-8zM3497 651h8v8h-8zM3645 628h7v8h-7zM3808 620h7v8h-7zM3963 643h8v8h-8zM4056 659h8v8h-8zM4111 985h7v8h-7zM4118 985h8v8h-8zM4126 690h8v8h-8zM4126 985h8v8h-8zM4134 985h8v8h-8zM4142 985h7v8h-7z"/><path fill="#dce1eb" d="M747 340h8v8h-8zM863 68h8v16h-8zM1912 472h8v8h-8zM3994 643h8v8h-8zM4025 659h8v8h-8z"/><path fill="#d7d7eb" d="M755 340h7v8h-7zM832 84h8v186h-8zM832 286h8v39h-8zM832 364h8v233h-8zM1197 387h8v8h-8zM1361 441h7v8h-7zM1687 496h8v7h-8zM1718 503h8v8h-8zM1803 496h8v7h-8zM2021 496h8v7h-8zM2246 558h8v8h-8zM2355 558h8v8h-8zM2907 597h7v7h-7zM2938 612h7v8h-7zM4111 682h7v8h-7z"/><path fill="#cdd2e6" d="M762 340h8v8h-8zM1353 449h8v8h-8zM1384 449h8v8h-8zM1601 503h8v8h-8zM1873 480h8v8h-8zM1889 488h8v8h-8zM3893 628h8v8h-8zM3940 636h7v7h-7z"/><path fill="#b9b9d7" d="M762 348h8v8h-8zM1477 480h8v8h-8zM1617 503h8v8h-8zM1873 488h8v8h-8zM1889 480h8v8h-8zM2448 535h8v7h-8zM3023 682h8v8h-8zM3039 682h7v8h-7zM3458 659h8v8h-8zM3466 651h8v8h-8zM3730 620h8v8h-8zM3932 636h8v7h-8z"/><path fill="#f5e1e1" d="M762 628h8v8h-8zM902 581h8v8h-8zM1003 589h8v8h-8zM1648 682h8v8h-8zM1881 721h8v8h-8zM2332 511h7v8h-7zM2619 690h8v8h-8zM2720 752h8v8h-8zM2829 768h8v7h-8zM2899 768h8v7h-8zM3007 783h8v8h-8zM3124 768h8v7h-8zM3186 760h8v8h-8zM3241 744h7v8h-7zM3388 1094h8v8h-8zM3458 690h8v8h-8zM3559 721h8v8h-8zM3613 721h8v8h-8zM3714 752h8v8h-8zM3854 830h8v8h-8z"/><path fill="#a5aacd" d="M801 340h8v8h-8zM972 364h8v7h-8zM1229 123h7v8h-7zM1361 449h7v8h-7zM1547 239h8v8h-8zM1555 239h8v8h-8zM1578 239h8v8h-8zM1586 239h8v8h-8zM1935 457h8v8h-8zM1935 752h8v8h-8zM2021 503h8v8h-8zM2145 527h8v8h-8zM2557 503h8v8h-8zM2642 488h8v8h-8zM2938 620h7v8h-7zM2953 628h8v8h-8zM3474 651h7v8h-7zM3878 628h7v8h-7zM4134 977h8v8h-8z"/><path fill="#fafafa" d="M809 68h8v16h-8zM879 340h8v8h-8zM933 348h8v8h-8zM1089 371h7v8h-7zM1213 131h8v147h-8zM1213 294h8v85h-8zM1213 418h8v186h-8zM1213 628h8v31h-8zM1539 511h8v8h-8zM1578 674h8v8h-8zM1741 503h8v8h-8zM1904 208h8v8h-8zM1904 768h8v7h-8zM1967 201h7v7h-7zM1967 760h7v8h-7zM2137 535h8v7h-8zM2308 294h8v202h-8zM2308 519h8v31h-8zM2308 589h8v249h-8zM2332 278h7v8h-7zM2433 542h7v8h-7zM2565 511h7v8h-7zM2635 193h7v8h-7zM2743 511h8v8h-8zM2759 519h8v8h-8zM3551 636h8v7h-8zM3745 597h8v7h-8zM3808 612h7v8h-7zM3909 628h7v8h-7zM4165 1086h8v8h-8z"/><path fill="#ebd7dc" d="M809 604h8v8h-8zM2238 558h8v8h-8zM3388 690h8v8h-8z"/><path fill="#e1b4b9" d="M809 612h8v8h-8z"/><path fill="#9696c3" d="M817 348h8v8h-8zM1213 387h8v8h-8zM1267 418h8v8h-8zM1555 503h8v8h-8zM1563 503h7v8h-7zM1765 496h7v7h-7zM1928 472h7v8h-7zM2106 519h8v8h-8zM2440 535h8v7h-8zM2658 472h8v8h-8zM3481 651h8v8h-8zM3660 628h8v8h-8zM4126 977h8v8h-8z"/><path fill="#8278aa" d="M817 604h8v8h-8z"/><path fill="#d2d2e1" d="M817 612h8v8h-8z"/><path fill="#8273a5" d="M825 604h7v8h-7z"/><path fill="#cdbed2" d="M832 270h8v8h-8zM3769 752h8v8h-8z"/><path fill="#c8aabe" d="M832 278h8v8h-8z"/><path fill="#6e73b4" d="M832 325h8v8h-8zM1213 395h8v7h-8zM4126 682h8v8h-8z"/><path fill="#787db9" d="M832 340h8v8h-8zM840 604h8v8h-8zM1197 410h8v8h-8zM1943 480h8v8h-8zM3598 636h8v7h-8zM3745 301h8v8h-8zM3753 301h8v8h-8zM3769 301h8v8h-8zM4111 356h7v8h-7zM4118 356h8v8h-8zM4142 356h7v8h-7zM4149 356h8v8h-8z"/><path fill="#be8ca5" d="M832 597h8v7h-8z"/><path fill="#827db4" d="M832 604h8v8h-8z"/><path fill="#7d82b9" d="M840 76h8v8h-8zM988 364h7v7h-7zM1547 503h8v8h-8zM1570 496h8v7h-8zM1741 496h8v7h-8zM1749 496h8v7h-8zM1912 480h8v8h-8zM1998 496h7v7h-7zM2169 535h7v7h-7zM2433 535h7v7h-7zM2642 768h8v7h-8zM2650 768h8v7h-8zM2658 768h8v7h-8zM2666 768h7v7h-7zM2673 488h8v8h-8zM2673 768h8v7h-8zM3015 667h8v7h-8zM3023 651h8v16h-8zM3039 651h7v8h-7zM3769 612h8v8h-8zM3909 636h7v7h-7zM4118 682h8v8h-8zM4126 651h8v8h-8z"/><path fill="#8278af" d="M840 270h8v8h-8zM840 597h8v7h-8z"/><path fill="#7d6ea5" d="M840 278h8v8h-8zM1221 402h8v8h-8z"/><path fill="#696eaf" d="M840 325h8v15h-8zM840 356h8v8h-8zM848 340h8v8h-8zM1182 395h8v7h-8zM1205 387h8v8h-8zM1570 511h8v8h-8zM1928 465h7v7h-7zM1935 465h8v7h-8zM1935 496h8v7h-8zM3031 674h8v8h-8z"/><path fill="#646eaf" d="M840 348h8v8h-8z"/><path fill="#7d78af" d="M840 581h8v8h-8zM2316 558h8v8h-8zM3411 371h8v8h-8z"/><path fill="#7d73aa" d="M840 589h8v8h-8z"/><path fill="#f0cdd2" d="M840 884h8v8h-8zM848 884h8v8h-8zM871 884h8v8h-8zM879 884h8v8h-8zM887 581h7v8h-7zM980 597h8v7h-8zM988 589h7v8h-7zM1081 597h8v7h-8zM1252 612h8v8h-8zM1306 620h8v8h-8zM1656 682h8v8h-8zM1749 698h8v7h-8zM1951 387h8v8h-8zM1982 1086h8v8h-8zM2200 581h7v8h-7zM2728 752h8v8h-8zM2837 768h7v7h-7zM2891 768h8v7h-8zM3000 783h7v8h-7zM3209 752h8v8h-8zM3233 737h8v7h-8zM3342 713h7v8h-7zM3411 286h8v78h-8zM3411 379h8v272h-8zM3411 698h8v264h-8zM3411 977h8v117h-8zM3489 698h8v7h-8zM3567 713h8v8h-8zM3606 729h7v8h-7zM3722 744h8v8h-8zM3885 845h8v8h-8zM4025 977h8v8h-8zM4064 1001h8v7h-8z"/><path fill="#dc91a0" d="M840 892h8v8h-8zM848 892h8v8h-8zM856 892h7v8h-7zM863 892h8v8h-8zM871 892h8v8h-8zM879 892h8v8h-8zM1221 620h8v8h-8zM1570 1001h8v7h-8zM1578 1001h8v7h-8zM1601 1001h8v7h-8zM1609 1001h8v7h-8zM2860 768h8v7h-8zM2868 768h7v7h-7zM3380 698h8v7h-8zM3419 278h8v86h-8zM3419 379h8v280h-8zM3419 674h8v8h-8zM3419 698h8v264h-8zM3419 977h8v117h-8z"/><path fill="#dc96a5" d="M848 278h8v8h-8zM871 278h8v8h-8zM879 278h8v8h-8zM933 589h8v8h-8zM1539 659h8v8h-8zM1679 682h8v8h-8zM2029 682h7v8h-7zM2130 620h7v8h-7zM2301 138h7v8h-7zM2308 138h8v8h-8zM2316 138h8v8h-8zM2324 138h8v8h-8zM2332 138h7v8h-7zM2339 138h8v8h-8zM3194 752h8v8h-8zM3544 713h7v8h-7zM3668 737h8v7h-8zM3979 931h7v8h-7zM3986 939h8v7h-8zM4041 985h7v8h-7z"/><path fill="#c87887" d="M848 581h8v8h-8z"/><path fill="#cd7d8c" d="M848 589h8v8h-8zM4149 674h8v8h-8z"/><path fill="#8c91be" d="M848 604h8v8h-8zM1182 387h8v8h-8zM1570 239h8v8h-8zM1648 503h8v8h-8zM1842 488h8v8h-8zM2029 503h7v8h-7zM2308 566h8v7h-8zM2503 519h7v8h-7zM2728 511h8v8h-8zM2821 558h8v8h-8zM3039 667h7v15h-7zM3590 636h8v7h-8zM3761 309h8v280h-8zM3761 636h8v116h-8zM3761 775h8v148h-8zM3955 643h8v8h-8zM4064 659h8v8h-8z"/><path fill="#d27d87" d="M856 278h7v8h-7zM2324 154h8v124h-8zM2324 294h8v202h-8zM2324 511h8v47h-8zM2324 573h8v265h-8zM4149 1568h8v8h-8z"/><path fill="#d2828c" d="M856 286h7v54h-7zM856 356h7v225h-7zM856 597h7v7h-7zM856 620h7v264h-7zM1221 931h8v8h-8zM1594 1001h7v7h-7zM2666 1109h7v8h-7zM2673 1109h8v8h-8zM2681 1109h8v8h-8zM2689 1109h8v8h-8zM2697 1109h8v8h-8zM2705 1109h7v8h-7z"/><path fill="#a07396" d="M856 340h7v8h-7z"/><path fill="#aa7396" d="M856 348h7v8h-7z"/><path fill="#b9465a" d="M856 581h7v8h-7z"/><path fill="#c86473" d="M856 589h7v8h-7z"/><path fill="#7d649b" d="M856 604h7v8h-7zM4149 985h8v8h-8z"/><path fill="#b47891" d="M856 612h7v8h-7z"/><path fill="#d27d8c" d="M856 884h7v8h-7zM2324 146h8v8h-8zM4149 604h8v63h-8zM4149 682h8v295h-8zM4149 993h8v78h-8zM4149 1094h8v474h-8z"/><path fill="#d78c9b" d="M863 278h8v8h-8zM1034 597h8v7h-8zM4126 1568h8v8h-8zM4134 1568h8v8h-8zM4142 1568h7v8h-7zM4165 1568h8v8h-8zM4173 1568h8v8h-8z"/><path fill="#f0d2d2" d="M863 286h8v54h-8zM863 356h8v225h-8zM863 597h8v7h-8zM863 620h8v264h-8zM2184 581h8v8h-8zM3823 791h8v8h-8zM3909 876h7v8h-7z"/><path fill="#c3afc8" d="M863 340h8v8h-8z"/><path fill="#aa9bbe" d="M863 348h8v8h-8z"/><path fill="#be5f6e" d="M863 581h8v8h-8z"/><path fill="#dca5af" d="M863 589h8v8h-8zM2308 511h8v8h-8zM2339 503h8v8h-8z"/><path fill="#c8c3d7" d="M863 604h8v8h-8z"/><path fill="#e1c8d7" d="M863 612h8v8h-8z"/><path fill="#c36e78" d="M871 581h8v8h-8zM4134 1078h8v8h-8z"/><path fill="#e6c3c8" d="M871 589h8v8h-8zM2339 496h8v7h-8z"/><path fill="#ebcdd2" d="M879 589h8v8h-8zM1073 604h8v8h-8zM1174 604h8v16h-8zM1842 705h8v8h-8zM1889 721h8v8h-8zM1943 721h8v8h-8zM3287 729h8v8h-8zM3963 923h8v8h-8zM4126 1576h8v7h-8zM4134 1576h8v7h-8zM4142 1576h7v7h-7zM4149 1576h8v7h-8zM4157 1576h8v7h-8zM4165 1576h8v7h-8zM4173 1576h8v7h-8z"/><path fill="#f5ebeb" d="M887 278h7v8h-7zM910 581h8v8h-8zM1011 589h8v8h-8zM1236 620h8v8h-8zM2658 1102h8v7h-8zM4103 1047h8v8h-8z"/><path fill="#e6b9be" d="M902 589h8v8h-8zM995 597h8v7h-8zM1065 597h8v7h-8zM1089 604h7v8h-7zM1159 604h7v8h-7zM1190 612h7v8h-7zM1314 628h8v8h-8zM1617 674h8v8h-8zM1757 698h8v7h-8zM1834 705h8v8h-8zM1897 721h7v8h-7zM1951 721h8v8h-8zM2099 636h7v7h-7zM2200 573h7v8h-7zM2316 146h8v8h-8zM2681 379h8v8h-8zM2697 379h8v8h-8zM2720 744h8v8h-8zM2883 768h8v7h-8zM3007 791h8v8h-8zM3132 768h8v7h-8zM3318 713h8v8h-8zM3396 1102h8v7h-8zM3404 1102h7v7h-7zM3411 1102h8v7h-8zM3419 1102h8v7h-8zM3427 1102h8v7h-8zM3435 1102h8v7h-8zM3520 705h8v8h-8zM3559 713h8v8h-8zM3839 806h7v8h-7zM3893 861h8v8h-8zM4010 962h7v8h-7z"/><path fill="#e1afb9" d="M910 589h8v8h-8zM2712 1109h8v8h-8zM2984 783h8v8h-8zM3046 682h8v8h-8z"/><path fill="#e6bec3" d="M972 589h8v8h-8zM1586 674h8v8h-8zM2161 597h8v7h-8zM2347 138h8v8h-8zM2417 566h8v7h-8zM2464 589h7v8h-7zM2487 612h8v8h-8zM2534 636h7v7h-7zM2580 667h8v7h-8zM2650 713h8v8h-8zM2697 737h8v7h-8zM3955 915h8v8h-8z"/><path fill="#e6ebf5" d="M980 356h8v8h-8zM1539 232h8v7h-8zM2526 519h8v8h-8z"/><path fill="#ebc3cd" d="M980 589h8v8h-8zM1462 651h7v8h-7zM2557 659h8v8h-8zM2604 690h7v8h-7zM2650 721h8v8h-8zM2782 752h8v8h-8zM2891 775h8v8h-8zM3683 744h8v8h-8z"/><path fill="#d78c96" d="M1027 597h7v7h-7zM1229 931h7v8h-7zM1594 340h7v8h-7zM1959 387h8v93h-8zM1959 496h8v225h-8zM1959 737h8v15h-8zM1959 775h8v303h-8zM3800 294h8v7h-8zM4157 1568h8v8h-8z"/><path fill="#c3c8e1" d="M1120 387h8v8h-8zM1260 410h7v8h-7zM1283 426h8v8h-8zM1407 457h8v8h-8zM1431 465h7v7h-7zM1454 472h8v8h-8zM1477 488h8v8h-8zM1943 496h8v7h-8zM2153 527h8v8h-8zM2720 503h8v8h-8zM2813 550h8v8h-8zM3023 667h8v7h-8zM3520 651h8v8h-8zM3621 628h8v8h-8zM3839 620h7v8h-7z"/><path fill="#e6e1eb" d="M1197 278h8v8h-8zM2681 496h8v7h-8zM3777 597h7v7h-7z"/><path fill="#d7afbe" d="M1197 286h8v8h-8z"/><path fill="#e6d7e1" d="M1197 604h8v8h-8zM2316 838h8v7h-8z"/><path fill="#d2a5b9" d="M1197 612h8v8h-8z"/><path fill="#7378af" d="M1205 278h8v8h-8zM3031 402h8v8h-8zM3031 799h8v7h-8z"/><path fill="#6e5f9b" d="M1205 286h8v8h-8zM2324 286h8v8h-8zM3031 410h8v8h-8zM3784 301h8v8h-8zM3784 923h8v8h-8z"/><path fill="#5f69aa" d="M1205 379h8v8h-8zM1205 410h8v8h-8z"/><path fill="#6e64a0" d="M1205 612h8v8h-8zM1221 667h8v7h-8zM1959 760h8v8h-8zM3031 791h8v8h-8z"/><path fill="#ebbec3" d="M1205 939h8v7h-8zM1213 939h8v7h-8zM1221 939h8v7h-8zM1229 604h7v8h-7zM1229 939h7v7h-7zM1236 939h8v7h-8zM1244 939h8v7h-8zM1298 620h8v8h-8zM1361 636h7v7h-7zM1570 1008h8v8h-8zM1578 1008h8v8h-8zM1586 1008h8v8h-8zM1594 1008h7v8h-7zM1601 1008h8v8h-8zM1609 1008h8v8h-8zM1710 690h8v8h-8zM2036 674h8v8h-8zM2060 667h8v7h-8zM2122 628h8v8h-8zM2223 558h8v8h-8zM2285 527h8v8h-8zM2347 519h8v8h-8zM2347 853h8v8h-8zM2417 558h8v8h-8zM2464 597h7v7h-7zM2534 643h7v8h-7zM2604 682h7v8h-7zM2705 379h7v8h-7zM2736 752h7v8h-7zM3178 760h8v8h-8zM3233 744h8v8h-8zM3365 705h8v8h-8zM3839 814h7v8h-7zM3893 853h8v8h-8z"/><path fill="#f0e1e6" d="M1213 278h8v8h-8z"/><path fill="#cd7887" d="M1213 286h8v8h-8zM2681 737h8v7h-8z"/><path fill="#f5f0f5" d="M1213 604h8v8h-8zM3023 783h8v8h-8z"/><path fill="#af4155" d="M1213 612h8v8h-8z"/><path fill="#f5f5f5" d="M1213 620h8v8h-8z"/><path fill="#d791a0" d="M1221 395h8v7h-8z"/><path fill="#cd91a0" d="M1221 659h8v8h-8zM1221 674h8v8h-8z"/><path fill="#9b8cb9" d="M1229 402h7v8h-7z"/><path fill="#cdaabe" d="M1229 410h7v8h-7z"/><path fill="#af3c4b" d="M1229 612h7v8h-7zM1586 667h8v7h-8z"/><path fill="#e1b9c8" d="M1229 659h7v8h-7zM1229 674h7v8h-7z"/><path fill="#a09bc3" d="M1229 667h7v7h-7zM4126 589h8v8h-8z"/><path fill="#f0dcdc" d="M1244 620h8v8h-8zM1298 628h8v8h-8zM1578 659h8v8h-8zM1617 667h8v7h-8zM2347 845h8v8h-8zM2666 1102h7v7h-7zM2673 1102h8v7h-8zM2705 1102h7v7h-7zM3310 713h8v8h-8z"/><path fill="#8287b9" d="M1322 434h8v7h-8zM1415 465h8v7h-8zM1516 496h8v7h-8zM1563 783h7v8h-7zM1920 488h8v8h-8zM1943 472h8v8h-8zM2697 496h8v7h-8zM3388 651h8v8h-8zM3753 612h8v8h-8zM3761 604h8v8h-8zM4126 659h8v15h-8z"/><path fill="#a5a5cd" d="M1376 449h8v8h-8zM1563 247h7v86h-7zM1563 348h7v140h-7zM1563 535h7v124h-7zM1563 674h7v109h-7zM1718 496h8v7h-8zM1928 208h7v8h-7zM1935 387h8v8h-8zM2091 519h8v8h-8zM2673 472h8v8h-8zM3450 659h8v8h-8zM3722 620h8v8h-8zM3745 620h8v8h-8zM4134 651h8v8h-8zM4134 667h8v7h-8z"/><path fill="#d7919b" d="M1384 636h8v7h-8zM1772 698h8v7h-8zM3248 737h8v7h-8zM3435 690h8v8h-8zM3466 698h8v7h-8z"/><path fill="#e1a5aa" d="M1392 636h7v7h-7zM3217 744h8v8h-8z"/><path fill="#8c8cbe" d="M1438 472h8v8h-8zM1935 488h8v8h-8zM2370 550h8v8h-8zM2712 503h8v8h-8zM2806 550h7v8h-7zM3388 667h8v7h-8zM3761 589h8v8h-8zM3761 768h8v7h-8z"/><path fill="#f0d7d7" d="M1516 651h8v8h-8zM1951 395h8v77h-8zM1951 496h8v225h-8zM1951 737h8v15h-8zM1951 775h8v303h-8zM2844 760h8v8h-8zM4002 946h8v8h-8zM4157 1086h8v8h-8z"/><path fill="#cdcde6" d="M1547 791h8v8h-8zM1555 791h8v8h-8zM1563 791h7v8h-7zM1570 791h8v8h-8zM1578 791h8v8h-8zM1617 511h8v8h-8zM2479 519h8v8h-8zM2611 488h8v8h-8zM2619 496h8v7h-8zM2798 542h8v8h-8zM2891 589h8v8h-8zM3458 651h8v8h-8zM3683 628h8v8h-8z"/><path fill="#91699b" d="M1563 333h7v7h-7z"/><path fill="#9b96be" d="M1563 340h7v8h-7zM2681 472h8v8h-8z"/><path fill="#9b8cb4" d="M1563 659h7v8h-7z"/><path fill="#9b91b9" d="M1563 667h7v7h-7z"/><path fill="#966996" d="M1570 333h8v7h-8z"/><path fill="#aa9bc3" d="M1570 340h8v8h-8z"/><path fill="#a596be" d="M1570 659h8v8h-8z"/><path fill="#87557d" d="M1570 667h8v7h-8z"/><path fill="#b44150" d="M1578 667h8v7h-8zM1959 729h8v8h-8zM3777 760h7v8h-7z"/><path fill="#ebbec8" d="M1586 348h8v155h-8zM1586 519h8v140h-8zM1586 682h8v101h-8zM1586 799h8v202h-8zM2060 659h8v8h-8zM2161 604h8v8h-8zM2223 566h8v7h-8zM2440 581h8v8h-8zM2557 651h8v8h-8zM2580 674h8v8h-8zM2627 698h8v7h-8zM2938 775h7v8h-7zM2992 783h8v8h-8zM3489 705h8v8h-8zM4010 954h7v8h-7zM4126 1055h8v8h-8z"/><path fill="#d2b4c3" d="M1586 503h8v8h-8z"/><path fill="#9687b4" d="M1586 511h8v8h-8z"/><path fill="#877daf" d="M1586 783h8v8h-8zM2238 550h8v8h-8z"/><path fill="#bea5be" d="M1586 791h8v8h-8z"/><path fill="#d78796" d="M1586 1001h8v7h-8zM1594 674h7v8h-7zM3046 1179h8v8h-8zM3054 1179h8v8h-8zM3792 294h8v7h-8z"/><path fill="#dc919b" d="M1594 348h7v155h-7zM1594 519h7v140h-7zM1594 682h7v101h-7zM1594 799h7v202h-7zM3411 1094h8v8h-8z"/><path fill="#be829b" d="M1594 503h7v8h-7z"/><path fill="#9678a0" d="M1594 511h7v8h-7zM3046 674h8v8h-8z"/><path fill="#d28791" d="M1594 659h7v8h-7zM1967 721h7v8h-7z"/><path fill="#876ea0" d="M1594 783h7v8h-7z"/><path fill="#b482a0" d="M1594 791h7v8h-7z"/><path fill="#c86e7d" d="M1601 667h8v7h-8zM3419 682h8v8h-8z"/><path fill="#ebc8d2" d="M1609 674h8v8h-8zM3606 721h7v8h-7zM3683 737h8v7h-8z"/><path fill="#aaaacd" d="M1928 371h7v8h-7zM1928 387h7v8h-7z"/><path fill="#9673a0" d="M1928 379h7v8h-7z"/><path fill="#9b87af" d="M1928 721h7v8h-7z"/><path fill="#a5a0c8" d="M1928 729h7v8h-7z"/><path fill="#a5a5c8" d="M1935 371h8v8h-8z"/><path fill="#916996" d="M1935 379h8v8h-8z"/><path fill="#a091b9" d="M1935 721h8v8h-8z"/><path fill="#9b82aa" d="M1935 729h8v8h-8z"/><path fill="#b95564" d="M1943 729h8v8h-8z"/><path fill="#d2b9c8" d="M1951 472h8v8h-8zM2658 371h8v8h-8z"/><path fill="#9687af" d="M1951 480h8v8h-8z"/><path fill="#a59bbe" d="M1951 488h8v8h-8z"/><path fill="#b94b5a" d="M1951 729h8v8h-8z"/><path fill="#ebcdd7" d="M1951 752h8v8h-8z"/><path fill="#7373af" d="M1951 760h8v8h-8zM2293 845h8v8h-8zM2301 519h7v8h-7zM2666 721h7v8h-7zM3396 698h8v7h-8z"/><path fill="#e1c8d2" d="M1951 768h8v7h-8z"/><path fill="#c8879b" d="M1959 480h8v8h-8z"/><path fill="#8c6e9b" d="M1959 488h8v8h-8z"/><path fill="#cd6e7d" d="M1959 721h8v8h-8z"/><path fill="#d28796" d="M1959 752h8v8h-8z"/><path fill="#c88796" d="M1959 768h8v7h-8z"/><path fill="#d78291" d="M1959 1078h8v8h-8z"/><path fill="#be646e" d="M1967 729h7v8h-7z"/><path fill="#d7d7e6" d="M2044 511h8v8h-8zM2487 527h8v8h-8zM3582 643h8v8h-8zM3831 628h8v8h-8z"/><path fill="#e6ebf0" d="M2207 550h8v8h-8zM2270 286h7v8h-7z"/><path fill="#8787b9" d="M2231 550h7v8h-7zM3777 604h7v8h-7z"/><path fill="#9b7da5" d="M2246 550h8v8h-8z"/><path fill="#c8bed7" d="M2254 550h8v8h-8z"/><path fill="#dcd7e6" d="M2293 511h8v8h-8zM2293 527h8v8h-8zM3753 294h8v7h-8zM4157 985h8v8h-8z"/><path fill="#be8ca0" d="M2293 519h8v8h-8z"/><path fill="#e1bec8" d="M2293 853h8v8h-8z"/><path fill="#7369a5" d="M2301 511h7v8h-7z"/><path fill="#5a5fa5" d="M2301 550h7v8h-7zM2301 566h7v7h-7zM2666 465h7v7h-7zM2666 496h7v7h-7z"/><path fill="#6e78b4" d="M2301 558h7v8h-7zM3031 643h8v8h-8zM3396 643h8v8h-8z"/><path fill="#5a64a5" d="M2301 581h7v8h-7z"/><path fill="#736eaa" d="M2301 845h7v8h-7zM2308 845h8v8h-8zM2316 845h8v8h-8zM2666 379h7v8h-7z"/><path fill="#d796a5" d="M2301 853h7v8h-7zM2308 853h8v8h-8zM2316 853h8v8h-8zM2324 853h8v8h-8z"/><path fill="#dcb9be" d="M2308 496h8v7h-8z"/><path fill="#d296a0" d="M2308 503h8v8h-8z"/><path fill="#dccddc" d="M2316 278h8v8h-8z"/><path fill="#7878af" d="M2316 286h8v8h-8z"/><path fill="#d2919b" d="M2316 496h8v7h-8zM3411 682h8v8h-8z"/><path fill="#be5a69" d="M2316 503h8v8h-8zM2697 744h8v8h-8z"/><path fill="#e6d2dc" d="M2316 550h8v8h-8zM2316 581h8v8h-8z"/><path fill="#6969aa" d="M2316 566h8v7h-8zM2681 488h8v8h-8zM3411 667h8v7h-8z"/><path fill="#9182b4" d="M2316 573h8v8h-8z"/><path fill="#be788c" d="M2324 278h8v8h-8z"/><path fill="#be5564" d="M2324 496h8v7h-8zM3419 690h8v8h-8z"/><path fill="#b94b5f" d="M2324 503h8v8h-8z"/><path fill="#b9738c" d="M2324 566h8v7h-8zM3784 294h8v7h-8z"/><path fill="#c8788c" d="M2324 838h8v7h-8zM3039 410h7v8h-7z"/><path fill="#6e5fa0" d="M2324 845h8v8h-8z"/><path fill="#d7a0aa" d="M2332 496h7v7h-7z"/><path fill="#c3646e" d="M2332 503h7v8h-7zM3411 690h8v8h-8z"/><path fill="#cdafc3" d="M2332 845h7v8h-7z"/><path fill="#f5dcdc" d="M2347 146h8v8h-8z"/><path fill="#cdb9cd" d="M2378 542h8v8h-8z"/><path fill="#a07da0" d="M2386 542h8v8h-8z"/><path fill="#9191be" d="M2394 542h8v8h-8z"/><path fill="#d7b4c3" d="M2394 550h8v8h-8z"/><path fill="#8787be" d="M2534 511h7v8h-7zM3054 371h8v8h-8zM3435 659h8v8h-8zM3489 651h8v8h-8zM3652 628h8v8h-8z"/><path fill="#a5aad2" d="M2588 496h8v7h-8zM2860 581h8v8h-8z"/><path fill="#d7c3d7" d="M2658 379h8v8h-8z"/><path fill="#c38ca0" d="M2658 721h8v8h-8z"/><path fill="#dcd2e1" d="M2658 729h8v8h-8z"/><path fill="#6e69a5" d="M2666 371h7v8h-7zM2666 729h7v8h-7zM3396 690h8v8h-8zM3411 659h8v8h-8z"/><path fill="#d79baa" d="M2673 371h8v8h-8z"/><path fill="#e1b9c3" d="M2673 379h8v8h-8z"/><path fill="#dcafb9" d="M2673 729h8v8h-8z"/><path fill="#d296a5" d="M2673 737h8v7h-8zM3023 791h8v8h-8z"/><path fill="#cd919b" d="M2673 744h8v8h-8z"/><path fill="#ebe6eb" d="M2681 465h8v7h-8z"/><path fill="#7878b4" d="M2681 480h8v8h-8zM3777 923h7v8h-7z"/><path fill="#c36e7d" d="M2681 744h8v8h-8z"/><path fill="#7d7db4" d="M2681 768h8v7h-8zM3777 620h7v8h-7z"/><path fill="#a06e91" d="M2689 488h8v8h-8zM4134 597h8v7h-8z"/><path fill="#9b6991" d="M2689 496h8v7h-8z"/><path fill="#c85f73" d="M2689 737h8v7h-8z"/><path fill="#b44155" d="M2689 744h8v8h-8z"/><path fill="#af6e8c" d="M2689 760h8v8h-8z"/><path fill="#735f9b" d="M2689 768h8v7h-8z"/><path fill="#f5ebf0" d="M2697 488h8v8h-8zM2697 760h8v8h-8z"/><path fill="#ebe1eb" d="M2697 503h8v8h-8zM3777 628h7v8h-7z"/><path fill="#e6e1f0" d="M2697 768h8v7h-8z"/><path fill="#f0e1e1" d="M2705 737h7v7h-7z"/><path fill="#c8737d" d="M2705 744h7v8h-7z"/><path fill="#f0f5fa" d="M2712 511h8v8h-8zM3443 651h7v8h-7z"/><path fill="#f0ebf0" d="M3023 402h8v8h-8z"/><path fill="#e1c3cd" d="M3023 410h8v8h-8z"/><path fill="#ebdce1" d="M3039 402h7v8h-7z"/><path fill="#c37d8c" d="M3039 791h7v8h-7z"/><path fill="#cd9baa" d="M3039 799h7v7h-7z"/><path fill="#c391aa" d="M3046 651h8v8h-8z"/><path fill="#7869a5" d="M3046 659h8v8h-8z"/><path fill="#6464a5" d="M3046 667h8v7h-8z"/><path fill="#c36973" d="M3046 791h8v8h-8zM3427 690h8v8h-8z"/><path fill="#c87382" d="M3046 799h8v7h-8zM3054 799h8v7h-8z"/><path fill="#d7aab9" d="M3046 946h8v8h-8z"/><path fill="#736ea5" d="M3046 954h8v8h-8zM3054 954h8v8h-8z"/><path fill="#dcaab9" d="M3046 962h8v8h-8zM3388 698h8v7h-8z"/><path fill="#c89bb4" d="M3054 659h8v8h-8z"/><path fill="#917daa" d="M3054 667h8v7h-8zM3411 674h8v8h-8z"/><path fill="#c35f6e" d="M3054 791h8v8h-8z"/><path fill="#d7a5b4" d="M3054 946h8v8h-8z"/><path fill="#dcaab4" d="M3054 962h8v8h-8zM4165 1078h8v8h-8z"/><path fill="#c36473" d="M3062 791h8v8h-8z"/><path fill="#dca5aa" d="M3062 799h8v7h-8z"/><path fill="#6464aa" d="M3396 682h8v8h-8z"/><path fill="#9b78a0" d="M3404 682h7v8h-7z"/><path fill="#b45f73" d="M3404 690h7v8h-7z"/><path fill="#ebebf0" d="M3404 698h7v7h-7z"/><path fill="#c8afc8" d="M3411 364h8v7h-8z"/><path fill="#c3a0b9" d="M3411 651h8v8h-8z"/><path fill="#827daf" d="M3411 962h8v8h-8zM3761 752h8v16h-8z"/><path fill="#c3afc3" d="M3411 970h8v7h-8z"/><path fill="#b982a0" d="M3419 364h8v7h-8zM3419 970h8v7h-8z"/><path fill="#7869a0" d="M3419 371h8v8h-8z"/><path fill="#9173a0" d="M3419 659h8v8h-8z"/><path fill="#be87a0" d="M3419 667h8v7h-8z"/><path fill="#7d69a0" d="M3419 962h8v8h-8z"/><path fill="#d28291" d="M3419 1094h8v8h-8z"/><path fill="#e1b9be" d="M3427 682h8v8h-8z"/><path fill="#b97891" d="M3761 294h8v7h-8zM3769 294h8v7h-8z"/><path fill="#8282b9" d="M3761 620h8v8h-8z"/><path fill="#9b4b69" d="M3769 760h8v8h-8z"/><path fill="#d2cde1" d="M3769 768h8v7h-8z"/><path fill="#b9788c" d="M3777 294h7v7h-7z"/><path fill="#e1dce6" d="M3777 931h7v8h-7z"/><path fill="#aa6e91" d="M3784 620h8v8h-8z"/><path fill="#af3746" d="M3784 760h8v8h-8z"/><path fill="#cd6978" d="M3784 768h8v7h-8z"/><path fill="#be738c" d="M3784 931h8v8h-8z"/><path fill="#f0ebf5" d="M3792 301h8v8h-8zM3792 923h8v8h-8z"/><path fill="#b4afd2" d="M3792 620h8v8h-8z"/><path fill="#9b9bc3" d="M4126 604h8v8h-8z"/><path fill="#b9b4d2" d="M4134 589h8v8h-8z"/><path fill="#b9afcd" d="M4134 604h8v8h-8z"/><path fill="#7d7db9" d="M4142 674h7v8h-7z"/><path fill="#b44b5a" d="M4142 1078h7v8h-7z"/><path fill="#cd788c" d="M4149 667h8v7h-8z"/><path fill="#af7391" d="M4149 977h8v8h-8z"/><path fill="#ebdce6" d="M4157 977h8v8h-8z"/><path fill="#b9555f" d="M4157 1078h8v8h-8z"/>
<rect x="1695" y="2057" width="1235" height="8" fill="#e6e6e6"/>
<rect x="1695" y="2065" width="8" height="86" fill="#c4c4c4"/>
<rect x="1706" y="2069" width="1220" height="78" fill="none" stroke="#6e6e6e" stroke-width="8"/>
<rect x="1732" y="2104" width="236" height="8" fill="#7776b9"/>
<rect x="1726" y="2104" width="6" height="8" fill="#dcdaee"/>
<rect x="1967" y="2104" width="6" height="8" fill="#dcdaee"/>
<rect x="2306" y="2104" width="212" height="8" fill="#d47884"/>
<rect x="2512" y="2104" width="6" height="8" fill="#dc8a94"/>
<rect x="1703" y="2151" width="1219" height="4" fill="#eeeeee"/>
<rect x="2844" y="2137" width="8" height="6" fill="#dddddd"/>
<rect x="2852" y="2137" width="8" height="6" fill="#8a8a8a"/>
<rect x="2883" y="2137" width="8" height="6" fill="#b4b4b4"/>
<text x="2000" y="2120" font-size="41.5">Erdafitinib</text>
<text x="2539.5" y="2119.5" font-size="41.5">Chemotherapy</text>
</svg></body></html>
